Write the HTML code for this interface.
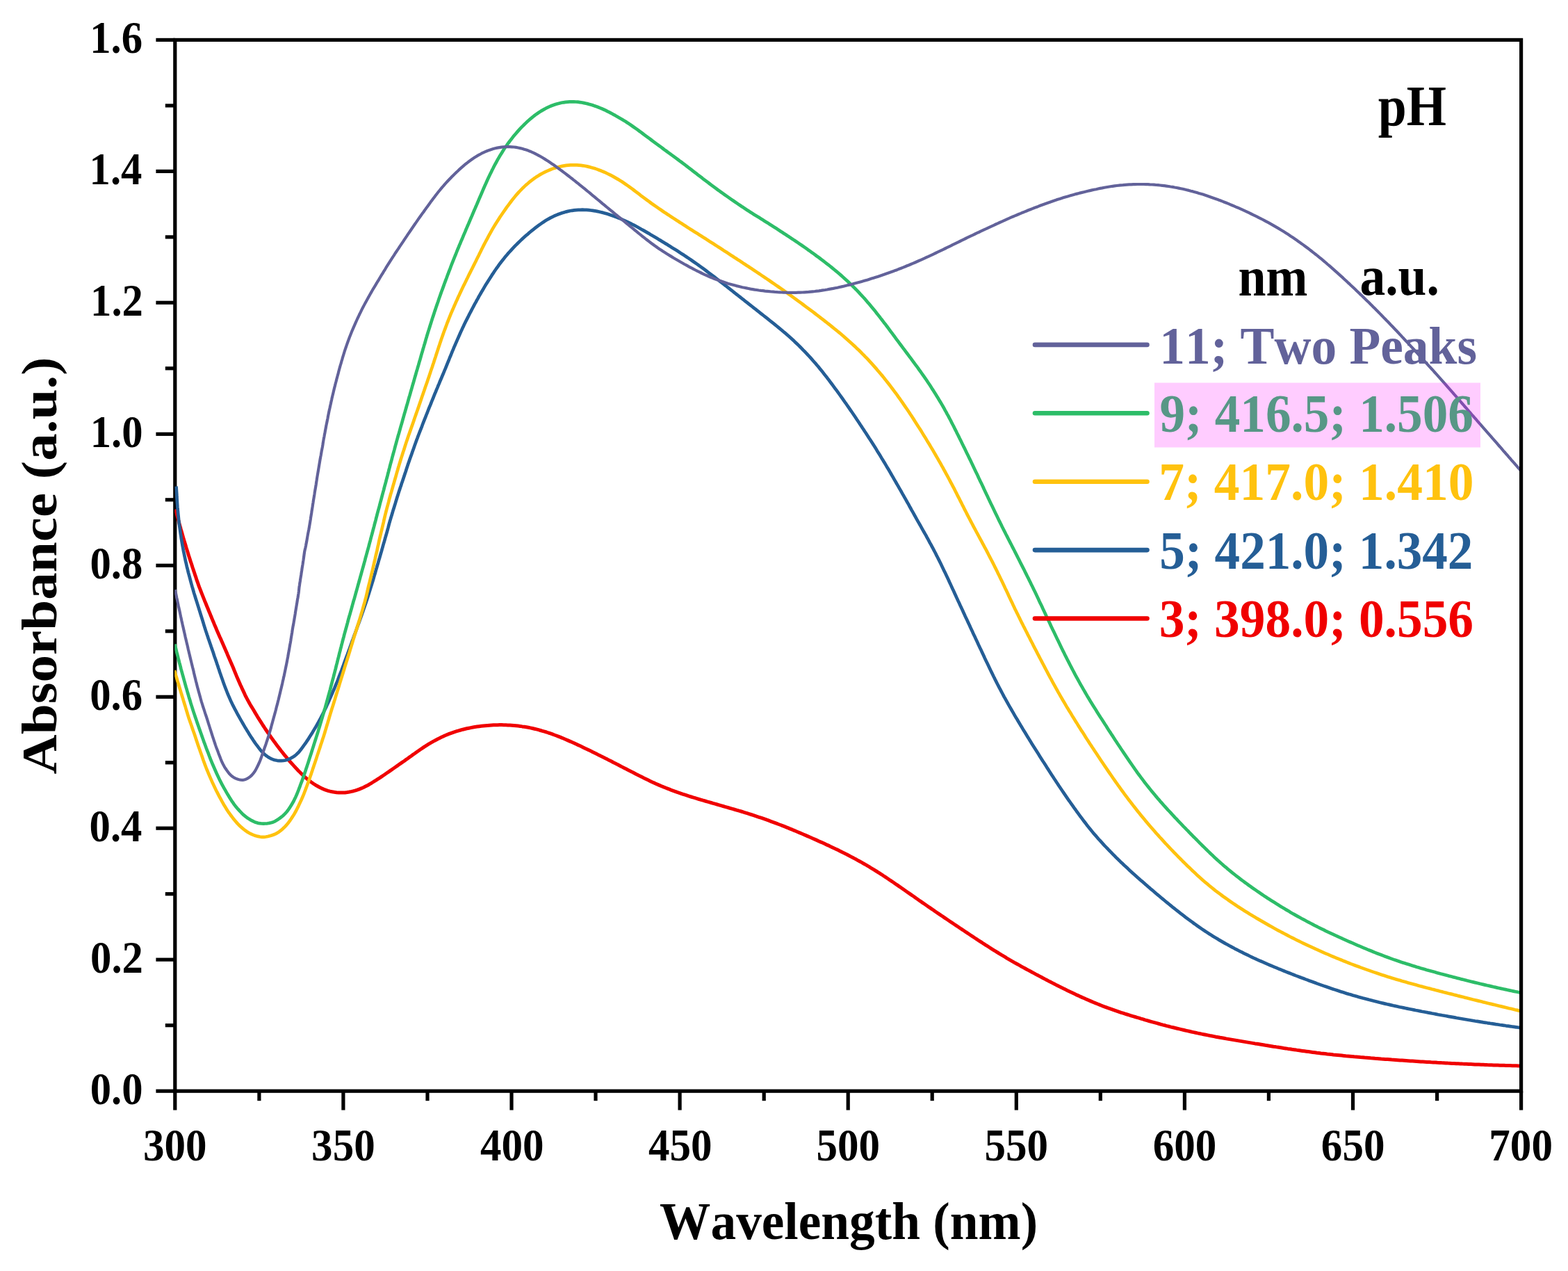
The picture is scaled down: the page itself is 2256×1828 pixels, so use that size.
<!DOCTYPE html>
<html lang="en"><head><meta charset="utf-8"><title>UV-Vis absorbance vs wavelength at different pH</title>
<style>html,body{margin:0;padding:0;background:#fff}body{width:2256px;height:1828px;overflow:hidden}svg{display:block;filter:blur(0.6px)}text{font-family:"Liberation Serif","DejaVu Serif",serif;font-weight:bold;font-size:100px;font-kerning:none}</style></head><body>
<svg width="2256" height="1828" viewBox="0 0 2256 1828">
<rect width="2256" height="1828" fill="#fff"/>
<g stroke="#000" stroke-width="5.2" fill="none" stroke-linecap="butt">
<rect x="251.8" y="57.4" width="1936.8" height="1511.8"/>
<line x1="224.4" y1="1569.2" x2="251.8" y2="1569.2"/>
<line x1="237.8" y1="1474.7" x2="251.8" y2="1474.7"/>
<line x1="224.4" y1="1380.2" x2="251.8" y2="1380.2"/>
<line x1="237.8" y1="1285.7" x2="251.8" y2="1285.7"/>
<line x1="224.4" y1="1191.2" x2="251.8" y2="1191.2"/>
<line x1="237.8" y1="1096.8" x2="251.8" y2="1096.8"/>
<line x1="224.4" y1="1002.3" x2="251.8" y2="1002.3"/>
<line x1="237.8" y1="907.8" x2="251.8" y2="907.8"/>
<line x1="224.4" y1="813.3" x2="251.8" y2="813.3"/>
<line x1="237.8" y1="718.8" x2="251.8" y2="718.8"/>
<line x1="224.4" y1="624.3" x2="251.8" y2="624.3"/>
<line x1="237.8" y1="529.8" x2="251.8" y2="529.8"/>
<line x1="224.4" y1="435.3" x2="251.8" y2="435.3"/>
<line x1="237.8" y1="340.9" x2="251.8" y2="340.9"/>
<line x1="224.4" y1="246.4" x2="251.8" y2="246.4"/>
<line x1="237.8" y1="151.9" x2="251.8" y2="151.9"/>
<line x1="224.4" y1="57.4" x2="251.8" y2="57.4"/>
<line x1="251.8" y1="1569.2" x2="251.8" y2="1596.6"/>
<line x1="372.9" y1="1569.2" x2="372.9" y2="1583.2"/>
<line x1="493.9" y1="1569.2" x2="493.9" y2="1596.6"/>
<line x1="615.0" y1="1569.2" x2="615.0" y2="1583.2"/>
<line x1="736.0" y1="1569.2" x2="736.0" y2="1596.6"/>
<line x1="857.0" y1="1569.2" x2="857.0" y2="1583.2"/>
<line x1="978.1" y1="1569.2" x2="978.1" y2="1596.6"/>
<line x1="1099.2" y1="1569.2" x2="1099.2" y2="1583.2"/>
<line x1="1220.2" y1="1569.2" x2="1220.2" y2="1596.6"/>
<line x1="1341.2" y1="1569.2" x2="1341.2" y2="1583.2"/>
<line x1="1462.3" y1="1569.2" x2="1462.3" y2="1596.6"/>
<line x1="1583.3" y1="1569.2" x2="1583.3" y2="1583.2"/>
<line x1="1704.4" y1="1569.2" x2="1704.4" y2="1596.6"/>
<line x1="1825.4" y1="1569.2" x2="1825.4" y2="1583.2"/>
<line x1="1946.5" y1="1569.2" x2="1946.5" y2="1596.6"/>
<line x1="2067.6" y1="1569.2" x2="2067.6" y2="1583.2"/>
<line x1="2188.6" y1="1569.2" x2="2188.6" y2="1596.6"/>
</g>
<g fill="#000">
<text transform="matrix(0.61038 0 0 0.65185 206.02 1669.15)">300</text>
<text transform="matrix(0.61038 0 0 0.65185 448.12 1669.15)">350</text>
<text transform="matrix(0.61038 0 0 0.65185 690.98 1669.15)">400</text>
<text transform="matrix(0.61038 0 0 0.65185 933.08 1669.15)">450</text>
<text transform="matrix(0.61038 0 0 0.65185 1174.42 1669.15)">500</text>
<text transform="matrix(0.61038 0 0 0.65185 1416.52 1669.15)">550</text>
<text transform="matrix(0.61038 0 0 0.65185 1658.77 1669.15)">600</text>
<text transform="matrix(0.61038 0 0 0.65185 1900.87 1669.15)">650</text>
<text transform="matrix(0.61038 0 0 0.65185 2142.36 1669.15)">700</text>
<text transform="matrix(0.60684 0 0 0.65294 129.77 1587.72)">0.0</text>
<text transform="matrix(0.60684 0 0 0.65294 130.08 1398.75)">0.2</text>
<text transform="matrix(0.60684 0 0 0.65294 128.56 1209.77)">0.4</text>
<text transform="matrix(0.60684 0 0 0.65294 129.17 1020.80)">0.6</text>
<text transform="matrix(0.60684 0 0 0.65294 129.47 831.82)">0.8</text>
<text transform="matrix(0.60684 0 0 0.65294 129.77 642.85)">1.0</text>
<text transform="matrix(0.60684 0 0 0.65294 130.08 453.87)">1.2</text>
<text transform="matrix(0.60684 0 0 0.65294 128.56 264.90)">1.4</text>
<text transform="matrix(0.60684 0 0 0.65294 129.17 75.92)">1.6</text>
</g>
<text transform="matrix(0.73365 0 0 0.76923 949.10 1782.48)" fill="#000">Wavelength (nm)</text>
<text transform="matrix(0 -0.79150 0.72889 0 81.19 1113.49)" fill="#000">Absorbance (a.u.)</text>
<clipPath id="plot"><rect x="251.3" y="57.4" width="1934.7" height="1511.8"/></clipPath>
<g fill="none" stroke-linejoin="round" stroke-linecap="butt" clip-path="url(#plot)">
<path stroke="#f00000" stroke-width="5.0" d="M252.4 732.4 L253.2 735.3 L254.0 738.2 L254.8 741.1 L255.6 744.0 L256.4 746.9 L257.2 749.9 L257.9 752.7 L258.7 755.6 L259.5 758.5 L260.3 761.4 L261.2 764.3 L262.0 767.2 L262.8 770.1 L263.6 773.0 L264.5 775.9 L265.3 778.8 L266.2 781.6 L267.1 784.5 L267.9 787.4 L268.8 790.3 L269.7 793.1 L270.6 796.0 L271.5 798.9 L272.4 801.7 L273.3 804.6 L274.2 807.4 L275.2 810.3 L276.1 813.1 L277.0 816.0 L278.0 818.8 L278.9 821.7 L279.9 824.5 L280.8 827.4 L281.8 830.2 L282.7 833.1 L283.7 835.9 L284.7 838.7 L285.7 841.6 L286.7 844.4 L287.8 847.2 L288.9 850.0 L290.0 852.8 L291.1 855.6 L292.2 858.4 L293.3 861.1 L294.4 863.9 L295.6 866.7 L296.7 869.5 L297.8 872.2 L299.0 875.0 L300.1 877.8 L301.2 880.6 L302.4 883.3 L303.5 886.1 L304.7 888.9 L305.8 891.6 L307.0 894.4 L308.1 897.2 L309.3 899.9 L310.5 902.7 L311.6 905.5 L312.8 908.2 L314.0 911.0 L315.2 913.7 L316.4 916.5 L317.7 919.2 L318.9 921.9 L320.1 924.7 L321.3 927.4 L322.5 930.2 L323.7 932.9 L324.9 935.7 L326.1 938.4 L327.2 941.2 L328.4 944.0 L329.6 946.7 L330.8 949.5 L332.0 952.2 L333.2 955.0 L334.4 957.7 L335.6 960.5 L336.7 963.3 L337.8 966.1 L339.0 968.9 L340.1 971.7 L341.3 974.4 L342.5 977.2 L343.7 980.0 L344.9 982.7 L346.1 985.5 L347.4 988.2 L348.6 990.9 L349.9 993.6 L351.2 996.4 L352.4 999.1 L353.7 1001.8 L355.1 1004.4 L356.5 1007.1 L358.0 1009.7 L359.4 1012.3 L360.9 1014.9 L362.5 1017.4 L364.1 1020.0 L365.6 1022.6 L367.1 1025.1 L368.7 1027.7 L370.2 1030.3 L371.8 1032.8 L373.4 1035.4 L375.0 1037.9 L376.6 1040.4 L378.2 1043.0 L379.9 1045.5 L381.5 1048.0 L383.2 1050.5 L384.9 1053.0 L386.6 1055.4 L388.3 1057.9 L390.0 1060.4 L391.7 1062.8 L393.5 1065.2 L395.2 1067.6 L397.0 1070.0 L398.8 1072.4 L400.6 1074.8 L402.4 1077.1 L404.2 1079.5 L406.1 1081.8 L407.9 1084.1 L409.8 1086.5 L411.7 1088.7 L413.6 1091.0 L415.5 1093.3 L417.4 1095.5 L419.4 1097.7 L421.4 1099.9 L423.4 1102.1 L425.4 1104.3 L427.5 1106.5 L429.5 1108.7 L431.7 1110.8 L433.8 1112.9 L436.0 1115.0 L438.2 1117.1 L440.5 1119.1 L442.8 1121.0 L445.2 1122.9 L447.6 1124.8 L450.1 1126.5 L452.6 1128.2 L455.2 1129.8 L457.9 1131.3 L460.6 1132.8 L463.4 1134.1 L466.2 1135.3 L469.1 1136.4 L472.0 1137.3 L475.0 1138.1 L478.0 1138.8 L481.1 1139.3 L484.1 1139.7 L487.2 1139.9 L490.3 1140.1 L493.4 1140.0 L496.5 1139.9 L499.6 1139.5 L502.6 1139.0 L505.7 1138.4 L508.7 1137.7 L511.6 1136.9 L514.6 1135.9 L517.4 1134.8 L520.2 1133.7 L523.0 1132.5 L525.8 1131.1 L528.5 1129.7 L531.2 1128.2 L533.9 1126.6 L536.4 1125.0 L539.0 1123.4 L541.5 1121.8 L544.1 1120.2 L546.6 1118.6 L549.1 1116.9 L551.6 1115.2 L554.1 1113.5 L556.6 1111.8 L559.0 1110.2 L561.5 1108.4 L563.9 1106.7 L566.4 1105.0 L568.9 1103.3 L571.3 1101.6 L573.8 1099.8 L576.2 1098.1 L578.7 1096.4 L581.2 1094.7 L583.6 1092.9 L586.1 1091.2 L588.5 1089.4 L591.0 1087.7 L593.4 1085.9 L595.9 1084.2 L598.3 1082.5 L600.8 1080.7 L603.3 1079.0 L605.8 1077.3 L608.3 1075.6 L610.8 1073.9 L613.3 1072.3 L615.9 1070.7 L618.5 1069.1 L621.1 1067.6 L623.7 1066.1 L626.4 1064.7 L629.1 1063.3 L631.8 1061.9 L634.5 1060.6 L637.3 1059.3 L640.0 1058.0 L642.8 1056.8 L645.6 1055.7 L648.5 1054.6 L651.3 1053.6 L654.2 1052.6 L657.1 1051.7 L660.0 1050.8 L662.9 1050.0 L665.8 1049.2 L668.7 1048.5 L671.6 1047.8 L674.6 1047.2 L677.5 1046.6 L680.5 1046.0 L683.4 1045.5 L686.4 1045.1 L689.3 1044.7 L692.3 1044.3 L695.2 1044.0 L698.2 1043.7 L701.2 1043.4 L704.1 1043.2 L707.1 1043.0 L710.0 1042.8 L713.0 1042.7 L716.0 1042.7 L718.9 1042.6 L721.9 1042.6 L724.8 1042.7 L727.8 1042.8 L730.7 1042.9 L733.7 1043.0 L736.6 1043.2 L739.6 1043.5 L742.5 1043.8 L745.5 1044.1 L748.4 1044.4 L751.4 1044.9 L754.3 1045.3 L757.3 1045.8 L760.2 1046.3 L763.1 1046.9 L766.0 1047.5 L769.0 1048.2 L771.9 1048.9 L774.8 1049.7 L777.6 1050.5 L780.5 1051.3 L783.4 1052.1 L786.3 1053.0 L789.1 1054.0 L792.0 1054.9 L794.8 1055.9 L797.6 1057.0 L800.4 1058.0 L803.2 1059.1 L806.0 1060.2 L808.8 1061.3 L811.6 1062.5 L814.4 1063.7 L817.1 1064.9 L819.9 1066.1 L822.6 1067.3 L825.4 1068.5 L828.1 1069.8 L830.8 1071.1 L833.5 1072.3 L836.3 1073.6 L839.0 1074.9 L841.7 1076.2 L844.4 1077.5 L847.1 1078.8 L849.8 1080.1 L852.5 1081.4 L855.2 1082.7 L857.8 1084.0 L860.5 1085.4 L863.2 1086.7 L865.9 1088.1 L868.6 1089.4 L871.2 1090.8 L873.9 1092.1 L876.6 1093.5 L879.3 1094.8 L881.9 1096.2 L884.6 1097.6 L887.3 1098.9 L889.9 1100.3 L892.6 1101.7 L895.3 1103.1 L897.9 1104.4 L900.6 1105.8 L903.3 1107.2 L905.9 1108.6 L908.6 1109.9 L911.3 1111.3 L914.0 1112.7 L916.6 1114.1 L919.3 1115.4 L922.0 1116.8 L924.7 1118.1 L927.4 1119.5 L930.1 1120.8 L932.8 1122.1 L935.5 1123.4 L938.2 1124.7 L940.9 1125.9 L943.7 1127.2 L946.4 1128.4 L949.2 1129.6 L951.9 1130.7 L954.7 1131.9 L957.5 1133.0 L960.3 1134.1 L963.1 1135.2 L965.9 1136.3 L968.7 1137.3 L971.5 1138.3 L974.3 1139.4 L977.2 1140.3 L980.0 1141.3 L982.9 1142.3 L985.7 1143.2 L988.6 1144.2 L991.4 1145.1 L994.3 1146.0 L997.2 1146.9 L1000.0 1147.7 L1002.9 1148.6 L1005.8 1149.5 L1008.7 1150.3 L1011.6 1151.2 L1014.4 1152.0 L1017.3 1152.9 L1020.2 1153.7 L1023.1 1154.5 L1026.0 1155.4 L1028.9 1156.2 L1031.8 1157.0 L1034.7 1157.8 L1037.5 1158.7 L1040.4 1159.5 L1043.3 1160.3 L1046.2 1161.1 L1049.1 1162.0 L1052.0 1162.8 L1054.9 1163.6 L1057.7 1164.5 L1060.6 1165.3 L1063.5 1166.2 L1066.4 1167.0 L1069.2 1167.9 L1072.1 1168.8 L1075.0 1169.7 L1077.8 1170.6 L1080.7 1171.5 L1083.5 1172.4 L1086.4 1173.4 L1089.2 1174.3 L1092.1 1175.3 L1094.9 1176.2 L1097.8 1177.2 L1100.6 1178.2 L1103.4 1179.2 L1106.2 1180.2 L1109.1 1181.3 L1111.9 1182.3 L1114.7 1183.3 L1117.5 1184.4 L1120.3 1185.5 L1123.1 1186.5 L1125.9 1187.6 L1128.7 1188.7 L1131.5 1189.8 L1134.2 1190.9 L1137.0 1192.1 L1139.8 1193.2 L1142.6 1194.4 L1145.3 1195.5 L1148.1 1196.7 L1150.9 1197.9 L1153.6 1199.0 L1156.4 1200.2 L1159.1 1201.4 L1161.9 1202.6 L1164.6 1203.8 L1167.4 1205.0 L1170.1 1206.2 L1172.9 1207.4 L1175.6 1208.6 L1178.4 1209.9 L1181.1 1211.1 L1183.9 1212.3 L1186.6 1213.6 L1189.3 1214.9 L1192.1 1216.1 L1194.8 1217.4 L1197.5 1218.7 L1200.2 1220.0 L1202.9 1221.2 L1205.7 1222.6 L1208.4 1223.9 L1211.0 1225.2 L1213.7 1226.6 L1216.4 1227.9 L1219.1 1229.3 L1221.8 1230.7 L1224.4 1232.1 L1227.1 1233.5 L1229.7 1234.9 L1232.4 1236.3 L1235.0 1237.8 L1237.6 1239.2 L1240.2 1240.7 L1242.9 1242.2 L1245.5 1243.7 L1248.0 1245.2 L1250.6 1246.7 L1253.2 1248.3 L1255.8 1249.8 L1258.3 1251.4 L1260.9 1253.0 L1263.4 1254.6 L1265.9 1256.2 L1268.5 1257.8 L1271.0 1259.5 L1273.5 1261.1 L1276.0 1262.8 L1278.5 1264.5 L1281.0 1266.2 L1283.5 1267.8 L1286.0 1269.5 L1288.4 1271.2 L1290.9 1272.9 L1293.4 1274.6 L1295.8 1276.3 L1298.3 1278.0 L1300.8 1279.8 L1303.3 1281.5 L1305.7 1283.2 L1308.2 1284.9 L1310.6 1286.6 L1313.1 1288.3 L1315.6 1290.0 L1318.0 1291.8 L1320.5 1293.5 L1322.9 1295.2 L1325.4 1296.9 L1327.8 1298.6 L1330.3 1300.3 L1332.8 1302.0 L1335.2 1303.7 L1337.7 1305.4 L1340.2 1307.1 L1342.7 1308.8 L1345.1 1310.5 L1347.6 1312.2 L1350.1 1313.9 L1352.6 1315.6 L1355.1 1317.3 L1357.5 1318.9 L1360.0 1320.6 L1362.5 1322.3 L1365.0 1324.0 L1367.5 1325.7 L1370.0 1327.3 L1372.5 1329.0 L1375.0 1330.7 L1377.5 1332.3 L1380.0 1334.0 L1382.5 1335.7 L1385.0 1337.3 L1387.5 1339.0 L1390.0 1340.7 L1392.5 1342.3 L1395.0 1344.0 L1397.5 1345.7 L1400.0 1347.3 L1402.5 1349.0 L1405.0 1350.6 L1407.5 1352.3 L1410.0 1353.9 L1412.6 1355.5 L1415.1 1357.2 L1417.6 1358.8 L1420.2 1360.4 L1422.7 1362.0 L1425.2 1363.7 L1427.8 1365.3 L1430.3 1366.9 L1432.8 1368.4 L1435.4 1370.0 L1438.0 1371.6 L1440.5 1373.2 L1443.1 1374.7 L1445.7 1376.2 L1448.2 1377.8 L1450.8 1379.3 L1453.4 1380.8 L1456.0 1382.3 L1458.6 1383.8 L1461.2 1385.3 L1463.8 1386.7 L1466.4 1388.2 L1469.0 1389.7 L1471.7 1391.1 L1474.3 1392.5 L1476.9 1394.0 L1479.5 1395.4 L1482.2 1396.8 L1484.8 1398.2 L1487.5 1399.6 L1490.1 1401.1 L1492.8 1402.5 L1495.4 1403.9 L1498.1 1405.3 L1500.7 1406.7 L1503.4 1408.1 L1506.0 1409.5 L1508.7 1410.9 L1511.4 1412.2 L1514.0 1413.6 L1516.7 1415.0 L1519.4 1416.4 L1522.1 1417.7 L1524.7 1419.1 L1527.4 1420.4 L1530.1 1421.8 L1532.8 1423.1 L1535.5 1424.4 L1538.2 1425.7 L1540.9 1427.0 L1543.6 1428.3 L1546.3 1429.6 L1549.0 1430.9 L1551.8 1432.1 L1554.5 1433.4 L1557.2 1434.6 L1560.0 1435.8 L1562.7 1437.1 L1565.5 1438.2 L1568.2 1439.4 L1571.0 1440.6 L1573.7 1441.7 L1576.5 1442.9 L1579.3 1444.0 L1582.1 1445.1 L1584.8 1446.2 L1587.6 1447.3 L1590.4 1448.3 L1593.2 1449.4 L1596.1 1450.4 L1598.9 1451.4 L1601.7 1452.4 L1604.5 1453.4 L1607.4 1454.4 L1610.2 1455.3 L1613.0 1456.3 L1615.9 1457.2 L1618.7 1458.1 L1621.6 1459.0 L1624.5 1459.9 L1627.3 1460.8 L1630.2 1461.7 L1633.1 1462.5 L1635.9 1463.4 L1638.8 1464.2 L1641.7 1465.1 L1644.6 1465.9 L1647.4 1466.8 L1650.3 1467.6 L1653.2 1468.5 L1656.1 1469.3 L1659.0 1470.1 L1661.8 1470.9 L1664.7 1471.7 L1667.6 1472.5 L1670.5 1473.3 L1673.4 1474.1 L1676.3 1474.8 L1679.2 1475.6 L1682.1 1476.3 L1685.0 1477.1 L1687.9 1477.8 L1690.9 1478.5 L1693.8 1479.2 L1696.7 1479.9 L1699.6 1480.6 L1702.5 1481.3 L1705.5 1482.0 L1708.4 1482.6 L1711.3 1483.3 L1714.2 1484.0 L1717.2 1484.6 L1720.1 1485.2 L1723.0 1485.9 L1726.0 1486.5 L1728.9 1487.1 L1731.9 1487.7 L1734.8 1488.3 L1737.7 1488.9 L1740.7 1489.5 L1743.6 1490.0 L1746.6 1490.6 L1749.5 1491.2 L1752.5 1491.7 L1755.4 1492.3 L1758.4 1492.8 L1761.3 1493.3 L1764.3 1493.9 L1767.2 1494.4 L1770.2 1494.9 L1773.1 1495.4 L1776.1 1495.9 L1779.1 1496.4 L1782.0 1496.9 L1785.0 1497.4 L1787.9 1497.9 L1790.9 1498.4 L1793.8 1498.9 L1796.8 1499.4 L1799.7 1499.9 L1802.7 1500.4 L1805.7 1500.9 L1808.6 1501.3 L1811.6 1501.8 L1814.5 1502.3 L1817.5 1502.8 L1820.5 1503.3 L1823.4 1503.7 L1826.4 1504.2 L1829.3 1504.7 L1832.3 1505.2 L1835.3 1505.6 L1838.2 1506.1 L1841.2 1506.5 L1844.2 1507.0 L1847.1 1507.5 L1850.1 1507.9 L1853.1 1508.4 L1856.0 1508.8 L1859.0 1509.3 L1862.0 1509.7 L1864.9 1510.1 L1867.9 1510.6 L1870.9 1511.0 L1873.8 1511.4 L1876.8 1511.8 L1879.8 1512.2 L1882.7 1512.6 L1885.7 1513.0 L1888.7 1513.4 L1891.7 1513.8 L1894.7 1514.2 L1897.6 1514.5 L1900.6 1514.9 L1903.6 1515.2 L1906.6 1515.5 L1909.6 1515.9 L1912.6 1516.2 L1915.5 1516.5 L1918.5 1516.9 L1921.5 1517.2 L1924.5 1517.5 L1927.5 1517.8 L1930.5 1518.1 L1933.5 1518.4 L1936.5 1518.7 L1939.5 1518.9 L1942.4 1519.2 L1945.4 1519.5 L1948.4 1519.8 L1951.4 1520.0 L1954.4 1520.3 L1957.4 1520.6 L1960.4 1520.8 L1963.4 1521.1 L1966.4 1521.3 L1969.4 1521.5 L1972.4 1521.8 L1975.4 1522.0 L1978.3 1522.3 L1981.3 1522.5 L1984.3 1522.7 L1987.3 1523.0 L1990.3 1523.2 L1993.3 1523.4 L1996.3 1523.6 L1999.3 1523.8 L2002.3 1524.1 L2005.3 1524.3 L2008.3 1524.5 L2011.3 1524.7 L2014.3 1524.9 L2017.3 1525.1 L2020.3 1525.3 L2023.3 1525.5 L2026.2 1525.7 L2029.2 1525.9 L2032.2 1526.1 L2035.2 1526.3 L2038.2 1526.5 L2041.2 1526.7 L2044.2 1526.9 L2047.2 1527.0 L2050.2 1527.2 L2053.2 1527.4 L2056.2 1527.6 L2059.2 1527.8 L2062.1 1527.9 L2065.1 1528.1 L2068.1 1528.3 L2071.1 1528.4 L2074.1 1528.6 L2077.1 1528.7 L2080.1 1528.9 L2083.1 1529.1 L2086.1 1529.2 L2089.1 1529.4 L2092.1 1529.5 L2095.1 1529.7 L2098.1 1529.8 L2101.1 1529.9 L2104.1 1530.1 L2107.1 1530.2 L2110.0 1530.3 L2113.0 1530.5 L2116.0 1530.6 L2119.0 1530.7 L2122.0 1530.9 L2125.0 1531.0 L2128.0 1531.1 L2131.0 1531.2 L2134.0 1531.3 L2137.0 1531.4 L2140.0 1531.6 L2143.0 1531.7 L2146.0 1531.8 L2149.0 1531.9 L2152.0 1532.0 L2155.0 1532.1 L2158.0 1532.2 L2160.9 1532.3 L2163.9 1532.3 L2166.9 1532.4 L2169.8 1532.5 L2172.8 1532.6 L2175.7 1532.7 L2178.6 1532.8 L2181.6 1532.8 L2184.9 1532.9 L2187.9 1533.0 L2190.9 1533.1"/>
<path stroke="#255e96" stroke-width="4.7" d="M253.5 699.5 L253.7 702.5 L253.9 705.5 L254.1 708.5 L254.3 711.5 L254.4 714.5 L254.6 717.5 L254.8 720.5 L255.0 723.5 L255.2 726.4 L255.4 729.4 L255.7 732.4 L255.9 735.3 L256.2 738.3 L256.5 741.3 L256.8 744.2 L257.1 747.2 L257.5 750.2 L257.8 753.1 L258.2 756.1 L258.6 759.0 L259.0 762.0 L259.4 764.9 L259.8 767.9 L260.3 770.8 L260.7 773.8 L261.2 776.7 L261.7 779.7 L262.2 782.6 L262.7 785.5 L263.3 788.5 L263.8 791.4 L264.4 794.3 L265.0 797.3 L265.6 800.2 L266.2 803.1 L266.8 806.1 L267.5 809.0 L268.2 811.9 L268.8 814.8 L269.6 817.8 L270.3 820.7 L271.0 823.6 L271.8 826.5 L272.6 829.4 L273.4 832.3 L274.1 835.2 L274.9 838.1 L275.7 841.0 L276.5 843.9 L277.4 846.8 L278.2 849.7 L279.0 852.6 L279.9 855.4 L280.8 858.3 L281.7 861.2 L282.6 864.0 L283.5 866.9 L284.4 869.8 L285.3 872.6 L286.2 875.5 L287.1 878.4 L288.0 881.3 L288.9 884.2 L289.8 887.0 L290.7 889.9 L291.6 892.8 L292.5 895.7 L293.3 898.5 L294.2 901.4 L295.1 904.3 L296.0 907.1 L297.0 910.0 L297.9 912.8 L298.9 915.6 L299.8 918.5 L300.8 921.3 L301.8 924.2 L302.8 927.0 L303.7 929.8 L304.7 932.6 L305.7 935.5 L306.7 938.3 L307.6 941.2 L308.5 944.0 L309.5 946.8 L310.5 949.6 L311.5 952.5 L312.4 955.3 L313.4 958.1 L314.3 961.0 L315.3 963.8 L316.2 966.7 L317.2 969.5 L318.2 972.4 L319.2 975.2 L320.2 978.0 L321.2 980.9 L322.2 983.7 L323.2 986.5 L324.3 989.4 L325.4 992.2 L326.5 995.0 L327.6 997.8 L328.8 1000.6 L330.0 1003.3 L331.2 1006.1 L332.4 1008.8 L333.7 1011.5 L335.0 1014.2 L336.4 1016.9 L337.8 1019.6 L339.2 1022.2 L340.6 1024.9 L342.0 1027.5 L343.5 1030.1 L344.9 1032.7 L346.4 1035.3 L347.9 1037.9 L349.4 1040.5 L350.9 1043.1 L352.4 1045.7 L354.0 1048.2 L355.5 1050.8 L357.1 1053.3 L358.7 1055.9 L360.3 1058.4 L361.9 1060.9 L363.6 1063.4 L365.2 1065.9 L366.9 1068.4 L368.7 1070.8 L370.5 1073.2 L372.3 1075.6 L374.2 1078.0 L376.2 1080.4 L378.3 1082.6 L380.5 1084.7 L382.8 1086.7 L385.3 1088.4 L387.8 1090.0 L390.4 1091.4 L393.1 1092.4 L395.9 1093.3 L398.8 1093.8 L401.7 1094.2 L404.6 1094.2 L407.6 1094.0 L410.6 1093.5 L413.4 1092.7 L416.2 1091.6 L418.8 1090.3 L421.4 1088.9 L423.9 1087.2 L426.3 1085.2 L428.6 1083.1 L430.7 1080.8 L432.7 1078.3 L434.5 1075.8 L436.3 1073.3 L438.1 1070.9 L439.9 1068.5 L441.6 1065.9 L443.3 1063.4 L444.9 1060.8 L446.5 1058.3 L448.1 1055.7 L449.7 1053.2 L451.2 1050.6 L452.7 1048.1 L454.3 1045.5 L455.8 1042.9 L457.2 1040.3 L458.7 1037.7 L460.1 1035.1 L461.5 1032.5 L462.9 1029.8 L464.3 1027.1 L465.6 1024.5 L466.9 1021.8 L468.2 1019.1 L469.5 1016.4 L470.7 1013.6 L472.0 1010.9 L473.2 1008.2 L474.4 1005.4 L475.6 1002.7 L476.8 999.9 L478.0 997.2 L479.2 994.4 L480.4 991.7 L481.6 988.9 L482.7 986.1 L483.8 983.4 L485.0 980.6 L486.1 977.8 L487.1 975.0 L488.2 972.2 L489.3 969.4 L490.4 966.6 L491.5 963.8 L492.5 961.0 L493.6 958.2 L494.6 955.4 L495.6 952.6 L496.6 949.8 L497.7 946.9 L498.7 944.1 L499.8 941.3 L500.8 938.5 L501.8 935.7 L502.9 932.9 L503.9 930.1 L504.9 927.3 L505.9 924.4 L506.9 921.6 L508.0 918.8 L509.0 916.0 L510.0 913.1 L511.1 910.3 L512.1 907.5 L513.1 904.7 L514.1 901.8 L515.1 899.0 L516.2 896.2 L517.2 893.4 L518.2 890.5 L519.2 887.7 L520.2 884.9 L521.2 882.0 L522.2 879.2 L523.2 876.3 L524.2 873.5 L525.2 870.6 L526.2 867.8 L527.1 864.9 L528.1 862.1 L529.0 859.2 L529.9 856.3 L530.8 853.5 L531.7 850.6 L532.6 847.7 L533.5 844.9 L534.4 842.0 L535.3 839.1 L536.2 836.3 L537.1 833.4 L537.9 830.5 L538.7 827.6 L539.6 824.8 L540.4 821.9 L541.2 819.0 L542.1 816.1 L542.9 813.2 L543.8 810.4 L544.6 807.5 L545.4 804.6 L546.3 801.7 L547.1 798.8 L547.9 796.0 L548.8 793.1 L549.6 790.2 L550.4 787.3 L551.2 784.4 L552.0 781.6 L552.9 778.7 L553.7 775.8 L554.5 772.9 L555.4 770.0 L556.2 767.1 L557.0 764.3 L557.8 761.4 L558.6 758.5 L559.3 755.6 L560.1 752.7 L560.9 749.8 L561.8 746.9 L562.6 744.1 L563.5 741.2 L564.4 738.3 L565.2 735.4 L566.1 732.5 L567.0 729.7 L567.9 726.8 L568.8 723.9 L569.6 721.1 L570.5 718.2 L571.4 715.3 L572.3 712.5 L573.2 709.6 L574.1 706.7 L575.1 703.9 L576.0 701.0 L577.0 698.2 L577.9 695.3 L578.9 692.5 L579.9 689.6 L580.8 686.7 L581.8 683.9 L582.7 681.0 L583.7 678.2 L584.6 675.3 L585.5 672.5 L586.5 669.6 L587.4 666.8 L588.4 664.0 L589.4 661.1 L590.4 658.3 L591.4 655.5 L592.4 652.7 L593.4 649.8 L594.4 647.0 L595.4 644.2 L596.4 641.3 L597.4 638.5 L598.4 635.7 L599.4 632.9 L600.5 630.1 L601.5 627.3 L602.6 624.5 L603.7 621.7 L604.8 618.9 L605.9 616.1 L607.0 613.3 L608.0 610.5 L609.1 607.7 L610.2 604.9 L611.3 602.1 L612.4 599.3 L613.5 596.5 L614.6 593.8 L615.7 591.0 L616.8 588.2 L617.9 585.4 L619.1 582.6 L620.2 579.8 L621.3 577.0 L622.4 574.3 L623.6 571.5 L624.7 568.7 L625.8 565.9 L627.0 563.2 L628.1 560.4 L629.3 557.6 L630.4 554.8 L631.6 552.1 L632.7 549.3 L633.9 546.5 L635.1 543.7 L636.2 541.0 L637.4 538.2 L638.6 535.4 L639.7 532.7 L640.9 529.9 L642.0 527.1 L643.1 524.3 L644.2 521.6 L645.4 518.8 L646.5 516.0 L647.6 513.2 L648.8 510.5 L649.9 507.7 L651.0 504.9 L652.2 502.2 L653.3 499.4 L654.5 496.7 L655.7 493.9 L656.9 491.2 L658.1 488.4 L659.3 485.7 L660.5 483.0 L661.7 480.2 L662.9 477.5 L664.2 474.8 L665.4 472.1 L666.7 469.4 L668.0 466.6 L669.3 463.9 L670.7 461.2 L672.0 458.6 L673.4 455.9 L674.7 453.2 L676.1 450.5 L677.5 447.8 L678.9 445.2 L680.3 442.5 L681.7 439.8 L683.1 437.2 L684.6 434.6 L686.0 431.9 L687.5 429.3 L688.9 426.7 L690.4 424.1 L691.9 421.5 L693.4 418.9 L695.0 416.3 L696.5 413.7 L698.0 411.1 L699.6 408.6 L701.2 406.0 L702.8 403.5 L704.4 401.0 L706.0 398.4 L707.6 395.9 L709.3 393.4 L710.9 390.9 L712.6 388.5 L714.3 386.0 L716.1 383.6 L717.8 381.1 L719.6 378.7 L721.5 376.3 L723.3 374.0 L725.2 371.6 L727.0 369.3 L729.0 367.0 L730.9 364.7 L732.9 362.5 L734.9 360.3 L736.9 358.1 L739.0 355.9 L741.1 353.7 L743.2 351.6 L745.3 349.5 L747.5 347.4 L749.6 345.4 L751.8 343.3 L754.0 341.3 L756.2 339.3 L758.5 337.4 L760.7 335.4 L763.0 333.5 L765.3 331.6 L767.6 329.8 L770.0 327.9 L772.3 326.1 L774.7 324.3 L777.2 322.6 L779.6 320.9 L782.1 319.2 L784.6 317.6 L787.1 316.1 L789.7 314.6 L792.3 313.1 L795.0 311.8 L797.6 310.5 L800.4 309.3 L803.1 308.2 L805.9 307.2 L808.7 306.2 L811.5 305.4 L814.4 304.6 L817.3 303.9 L820.2 303.3 L823.1 302.8 L826.1 302.4 L829.1 302.1 L832.0 301.9 L835.0 301.8 L838.0 301.7 L841.0 301.8 L844.0 301.9 L847.0 302.2 L850.0 302.5 L853.0 302.9 L855.9 303.3 L858.9 303.9 L861.8 304.5 L864.8 305.2 L867.7 305.9 L870.6 306.7 L873.5 307.6 L876.4 308.5 L879.2 309.5 L882.1 310.5 L884.9 311.5 L887.7 312.6 L890.5 313.7 L893.3 314.9 L896.0 316.1 L898.8 317.3 L901.5 318.6 L904.2 319.9 L906.9 321.2 L909.6 322.6 L912.3 323.9 L914.9 325.3 L917.6 326.8 L920.2 328.2 L922.8 329.7 L925.4 331.1 L928.0 332.6 L930.6 334.1 L933.2 335.6 L935.8 337.2 L938.4 338.7 L941.0 340.2 L943.6 341.8 L946.1 343.3 L948.7 344.9 L951.3 346.4 L953.8 348.0 L956.4 349.6 L959.0 351.1 L961.5 352.7 L964.1 354.3 L966.6 355.9 L969.1 357.4 L971.7 359.0 L974.2 360.6 L976.7 362.2 L979.2 363.9 L981.7 365.5 L984.2 367.1 L986.7 368.8 L989.2 370.4 L991.7 372.1 L994.2 373.8 L996.6 375.5 L999.1 377.2 L1001.5 378.9 L1004.0 380.6 L1006.4 382.4 L1008.8 384.1 L1011.3 385.9 L1013.7 387.7 L1016.1 389.5 L1018.5 391.3 L1020.8 393.1 L1023.2 394.9 L1025.6 396.7 L1028.0 398.5 L1030.4 400.3 L1032.7 402.1 L1035.1 404.0 L1037.5 405.8 L1039.8 407.6 L1042.2 409.5 L1044.6 411.3 L1046.9 413.2 L1049.3 415.0 L1051.6 416.9 L1054.0 418.7 L1056.3 420.6 L1058.7 422.5 L1061.1 424.3 L1063.4 426.2 L1065.8 428.0 L1068.1 429.9 L1070.5 431.7 L1072.8 433.6 L1075.2 435.4 L1077.6 437.3 L1079.9 439.1 L1082.3 441.0 L1084.6 442.9 L1087.0 444.7 L1089.4 446.6 L1091.7 448.4 L1094.1 450.3 L1096.4 452.1 L1098.8 454.0 L1101.2 455.9 L1103.5 457.7 L1105.9 459.6 L1108.2 461.5 L1110.6 463.4 L1112.9 465.2 L1115.3 467.1 L1117.6 469.0 L1119.9 470.9 L1122.3 472.8 L1124.6 474.7 L1126.9 476.7 L1129.2 478.6 L1131.4 480.6 L1133.7 482.6 L1136.0 484.6 L1138.2 486.6 L1140.4 488.6 L1142.6 490.6 L1144.8 492.7 L1147.0 494.8 L1149.2 496.9 L1151.3 499.0 L1153.4 501.1 L1155.5 503.3 L1157.6 505.4 L1159.7 507.6 L1161.8 509.8 L1163.8 512.0 L1165.8 514.2 L1167.8 516.4 L1169.8 518.7 L1171.8 521.0 L1173.8 523.2 L1175.7 525.5 L1177.7 527.8 L1179.6 530.2 L1181.5 532.5 L1183.4 534.8 L1185.2 537.2 L1187.1 539.6 L1189.0 541.9 L1190.8 544.3 L1192.6 546.7 L1194.4 549.1 L1196.2 551.5 L1198.0 553.9 L1199.8 556.3 L1201.6 558.8 L1203.4 561.2 L1205.2 563.6 L1206.9 566.0 L1208.7 568.5 L1210.4 570.9 L1212.2 573.4 L1213.9 575.8 L1215.6 578.3 L1217.4 580.7 L1219.1 583.2 L1220.8 585.6 L1222.5 588.1 L1224.2 590.6 L1225.9 593.0 L1227.6 595.5 L1229.3 598.0 L1231.0 600.5 L1232.6 603.0 L1234.3 605.5 L1236.0 608.0 L1237.6 610.5 L1239.3 613.0 L1240.9 615.5 L1242.6 618.0 L1244.2 620.5 L1245.9 623.0 L1247.5 625.5 L1249.1 628.0 L1250.7 630.5 L1252.4 633.0 L1254.0 635.5 L1255.6 638.1 L1257.2 640.6 L1258.8 643.1 L1260.4 645.6 L1261.9 648.2 L1263.5 650.7 L1265.1 653.3 L1266.7 655.8 L1268.2 658.4 L1269.8 660.9 L1271.3 663.5 L1272.9 666.1 L1274.4 668.6 L1275.9 671.2 L1277.5 673.8 L1279.0 676.3 L1280.5 678.9 L1282.0 681.5 L1283.5 684.1 L1285.0 686.7 L1286.5 689.3 L1288.0 691.9 L1289.5 694.5 L1291.0 697.1 L1292.5 699.7 L1294.0 702.3 L1295.5 704.9 L1297.0 707.5 L1298.4 710.1 L1299.9 712.7 L1301.4 715.3 L1302.9 717.9 L1304.3 720.5 L1305.8 723.1 L1307.3 725.7 L1308.7 728.3 L1310.2 731.0 L1311.6 733.6 L1313.1 736.2 L1314.6 738.8 L1316.0 741.4 L1317.5 744.1 L1318.9 746.7 L1320.4 749.3 L1321.9 751.9 L1323.4 754.5 L1324.9 757.1 L1326.4 759.8 L1327.8 762.4 L1329.3 765.0 L1330.8 767.6 L1332.3 770.2 L1333.7 772.9 L1335.2 775.5 L1336.6 778.1 L1338.0 780.8 L1339.5 783.4 L1340.9 786.1 L1342.3 788.7 L1343.7 791.4 L1345.1 794.0 L1346.5 796.7 L1347.8 799.4 L1349.2 802.0 L1350.5 804.7 L1351.9 807.4 L1353.2 810.1 L1354.5 812.8 L1355.8 815.5 L1357.1 818.2 L1358.4 820.9 L1359.7 823.6 L1361.0 826.3 L1362.3 829.0 L1363.6 831.8 L1364.9 834.5 L1366.1 837.2 L1367.4 839.9 L1368.6 842.6 L1369.9 845.4 L1371.1 848.1 L1372.4 850.8 L1373.6 853.5 L1374.9 856.3 L1376.1 859.0 L1377.4 861.7 L1378.6 864.4 L1379.9 867.1 L1381.2 869.9 L1382.4 872.6 L1383.7 875.3 L1385.0 878.0 L1386.2 880.7 L1387.5 883.5 L1388.7 886.2 L1390.0 888.9 L1391.3 891.6 L1392.5 894.3 L1393.8 897.1 L1395.1 899.8 L1396.3 902.5 L1397.6 905.2 L1398.9 907.9 L1400.1 910.7 L1401.4 913.4 L1402.7 916.1 L1403.9 918.8 L1405.2 921.5 L1406.5 924.3 L1407.7 927.0 L1409.0 929.7 L1410.3 932.4 L1411.6 935.1 L1412.8 937.8 L1414.1 940.6 L1415.4 943.3 L1416.6 946.0 L1417.9 948.7 L1419.2 951.4 L1420.5 954.1 L1421.8 956.8 L1423.1 959.6 L1424.4 962.3 L1425.7 965.0 L1427.0 967.6 L1428.3 970.3 L1429.6 973.0 L1431.0 975.7 L1432.3 978.4 L1433.7 981.1 L1435.0 983.7 L1436.4 986.4 L1437.8 989.1 L1439.2 991.7 L1440.6 994.4 L1442.0 997.0 L1443.4 999.6 L1444.8 1002.3 L1446.3 1004.9 L1447.7 1007.5 L1449.2 1010.1 L1450.6 1012.7 L1452.1 1015.3 L1453.6 1017.9 L1455.1 1020.5 L1456.6 1023.1 L1458.1 1025.7 L1459.6 1028.3 L1461.1 1030.9 L1462.7 1033.4 L1464.2 1036.0 L1465.7 1038.6 L1467.3 1041.2 L1468.8 1043.8 L1470.4 1046.3 L1471.9 1048.9 L1473.5 1051.5 L1475.1 1054.0 L1476.6 1056.6 L1478.2 1059.2 L1479.8 1061.7 L1481.3 1064.3 L1482.9 1066.8 L1484.5 1069.4 L1486.1 1071.9 L1487.7 1074.5 L1489.3 1077.0 L1490.9 1079.6 L1492.5 1082.1 L1494.1 1084.6 L1495.7 1087.2 L1497.3 1089.7 L1498.9 1092.2 L1500.5 1094.8 L1502.2 1097.3 L1503.8 1099.8 L1505.4 1102.3 L1507.0 1104.9 L1508.7 1107.4 L1510.3 1109.9 L1511.9 1112.4 L1513.5 1114.9 L1515.2 1117.5 L1516.8 1120.0 L1518.5 1122.5 L1520.1 1125.0 L1521.8 1127.5 L1523.4 1130.0 L1525.1 1132.5 L1526.8 1135.0 L1528.5 1137.5 L1530.1 1139.9 L1531.8 1142.4 L1533.5 1144.9 L1535.2 1147.4 L1536.9 1149.8 L1538.7 1152.3 L1540.4 1154.8 L1542.1 1157.2 L1543.9 1159.7 L1545.6 1162.1 L1547.4 1164.5 L1549.1 1167.0 L1550.9 1169.4 L1552.7 1171.8 L1554.5 1174.3 L1556.3 1176.7 L1558.1 1179.1 L1559.9 1181.5 L1561.7 1183.8 L1563.5 1186.2 L1565.4 1188.6 L1567.3 1190.9 L1569.2 1193.2 L1571.1 1195.6 L1573.0 1197.9 L1574.9 1200.2 L1576.9 1202.4 L1578.9 1204.7 L1580.8 1207.0 L1582.9 1209.2 L1584.9 1211.4 L1586.9 1213.6 L1588.9 1215.8 L1591.0 1218.0 L1593.1 1220.2 L1595.2 1222.4 L1597.3 1224.5 L1599.4 1226.7 L1601.5 1228.8 L1603.6 1230.9 L1605.7 1233.1 L1607.9 1235.2 L1610.0 1237.3 L1612.2 1239.4 L1614.4 1241.4 L1616.5 1243.5 L1618.7 1245.6 L1620.9 1247.6 L1623.1 1249.6 L1625.3 1251.7 L1627.5 1253.7 L1629.7 1255.7 L1632.0 1257.7 L1634.2 1259.7 L1636.4 1261.7 L1638.7 1263.7 L1640.9 1265.7 L1643.2 1267.6 L1645.4 1269.6 L1647.7 1271.6 L1650.0 1273.5 L1652.2 1275.5 L1654.5 1277.4 L1656.8 1279.4 L1659.1 1281.3 L1661.3 1283.2 L1663.6 1285.2 L1665.9 1287.1 L1668.2 1289.0 L1670.5 1291.0 L1672.8 1292.9 L1675.1 1294.8 L1677.4 1296.7 L1679.8 1298.6 L1682.1 1300.5 L1684.4 1302.4 L1686.7 1304.3 L1689.1 1306.1 L1691.4 1308.0 L1693.8 1309.9 L1696.1 1311.7 L1698.5 1313.6 L1700.9 1315.4 L1703.2 1317.2 L1705.6 1319.1 L1708.0 1320.9 L1710.4 1322.7 L1712.8 1324.4 L1715.3 1326.2 L1717.7 1328.0 L1720.1 1329.7 L1722.6 1331.5 L1725.1 1333.2 L1727.5 1334.9 L1730.0 1336.6 L1732.5 1338.3 L1735.0 1339.9 L1737.5 1341.6 L1740.0 1343.2 L1742.6 1344.8 L1745.1 1346.4 L1747.7 1348.0 L1750.3 1349.5 L1752.8 1351.1 L1755.4 1352.6 L1758.0 1354.1 L1760.6 1355.6 L1763.2 1357.1 L1765.9 1358.5 L1768.5 1360.0 L1771.1 1361.4 L1773.8 1362.8 L1776.4 1364.3 L1779.1 1365.6 L1781.7 1367.0 L1784.4 1368.4 L1787.1 1369.7 L1789.8 1371.1 L1792.5 1372.4 L1795.2 1373.7 L1797.9 1375.0 L1800.6 1376.3 L1803.3 1377.6 L1806.1 1378.8 L1808.8 1380.1 L1811.5 1381.3 L1814.3 1382.5 L1817.0 1383.7 L1819.7 1384.9 L1822.5 1386.1 L1825.3 1387.3 L1828.0 1388.5 L1830.8 1389.6 L1833.6 1390.8 L1836.3 1391.9 L1839.1 1393.1 L1841.9 1394.2 L1844.7 1395.4 L1847.4 1396.5 L1850.2 1397.6 L1853.0 1398.7 L1855.8 1399.8 L1858.6 1400.9 L1861.4 1402.0 L1864.2 1403.1 L1867.0 1404.1 L1869.8 1405.2 L1872.6 1406.3 L1875.4 1407.3 L1878.2 1408.4 L1881.0 1409.4 L1883.8 1410.5 L1886.7 1411.5 L1889.5 1412.5 L1892.3 1413.5 L1895.1 1414.6 L1897.9 1415.6 L1900.7 1416.6 L1903.6 1417.6 L1906.4 1418.6 L1909.2 1419.5 L1912.1 1420.5 L1914.9 1421.5 L1917.7 1422.4 L1920.6 1423.4 L1923.4 1424.3 L1926.3 1425.3 L1929.1 1426.2 L1932.0 1427.1 L1934.9 1428.0 L1937.7 1428.9 L1940.6 1429.8 L1943.5 1430.6 L1946.3 1431.5 L1949.2 1432.3 L1952.1 1433.1 L1955.0 1433.9 L1957.9 1434.7 L1960.8 1435.5 L1963.7 1436.2 L1966.6 1437.0 L1969.5 1437.8 L1972.4 1438.5 L1975.3 1439.3 L1978.2 1440.0 L1981.2 1440.7 L1984.1 1441.5 L1987.0 1442.2 L1989.9 1442.9 L1992.8 1443.6 L1995.7 1444.3 L1998.6 1444.9 L2001.6 1445.6 L2004.5 1446.3 L2007.4 1446.9 L2010.4 1447.5 L2013.3 1448.2 L2016.2 1448.8 L2019.2 1449.4 L2022.1 1450.0 L2025.0 1450.6 L2028.0 1451.2 L2030.9 1451.8 L2033.9 1452.4 L2036.8 1453.0 L2039.8 1453.5 L2042.7 1454.1 L2045.6 1454.7 L2048.6 1455.2 L2051.5 1455.8 L2054.5 1456.4 L2057.4 1456.9 L2060.4 1457.5 L2063.3 1458.0 L2066.3 1458.6 L2069.2 1459.2 L2072.2 1459.7 L2075.1 1460.3 L2078.1 1460.8 L2081.0 1461.3 L2084.0 1461.9 L2086.9 1462.4 L2089.9 1462.9 L2092.8 1463.4 L2095.8 1464.0 L2098.7 1464.5 L2101.7 1465.0 L2104.6 1465.5 L2107.6 1466.0 L2110.5 1466.5 L2113.5 1467.0 L2116.5 1467.5 L2119.4 1468.0 L2122.4 1468.5 L2125.3 1468.9 L2128.3 1469.4 L2131.3 1469.9 L2134.2 1470.4 L2137.2 1470.8 L2140.2 1471.3 L2143.1 1471.7 L2146.1 1472.2 L2149.1 1472.6 L2152.0 1473.1 L2155.0 1473.5 L2158.0 1474.0 L2160.9 1474.4 L2163.9 1474.8 L2166.8 1475.3 L2169.8 1475.7 L2172.7 1476.1 L2175.5 1476.5 L2178.5 1476.9 L2181.5 1477.3 L2184.7 1477.8 L2187.7 1478.2 L2190.7 1478.6"/>
<path stroke="#ffc20e" stroke-width="4.7" d="M250.9 964.3 L251.8 967.2 L252.6 970.1 L253.5 972.9 L254.4 975.8 L255.2 978.7 L256.1 981.6 L257.0 984.4 L257.8 987.3 L258.7 990.2 L259.6 993.1 L260.4 995.9 L261.3 998.8 L262.2 1001.7 L263.1 1004.6 L263.9 1007.4 L264.8 1010.3 L265.7 1013.2 L266.6 1016.0 L267.4 1018.9 L268.3 1021.8 L269.2 1024.7 L270.0 1027.5 L270.9 1030.4 L271.8 1033.2 L272.8 1036.1 L273.8 1038.9 L274.8 1041.7 L275.8 1044.5 L276.7 1047.4 L277.7 1050.2 L278.7 1053.0 L279.7 1055.8 L280.7 1058.7 L281.6 1061.5 L282.5 1064.4 L283.5 1067.2 L284.4 1070.0 L285.4 1072.9 L286.4 1075.7 L287.4 1078.5 L288.4 1081.4 L289.4 1084.2 L290.4 1087.0 L291.4 1089.9 L292.3 1092.7 L293.3 1095.5 L294.4 1098.4 L295.4 1101.2 L296.5 1104.0 L297.6 1106.8 L298.8 1109.5 L299.9 1112.3 L301.1 1115.1 L302.3 1117.9 L303.5 1120.6 L304.7 1123.4 L305.9 1126.1 L307.2 1128.8 L308.5 1131.6 L309.8 1134.3 L311.1 1137.0 L312.5 1139.7 L313.9 1142.4 L315.3 1145.1 L316.7 1147.7 L318.2 1150.4 L319.6 1153.0 L321.1 1155.7 L322.6 1158.3 L324.2 1160.8 L325.8 1163.4 L327.4 1166.0 L329.1 1168.5 L330.9 1170.9 L332.6 1173.3 L334.4 1175.6 L336.2 1178.0 L338.1 1180.3 L340.1 1182.6 L342.1 1184.9 L344.2 1187.0 L346.3 1189.0 L348.5 1190.9 L350.7 1192.7 L353.0 1194.5 L355.4 1196.2 L358.0 1197.8 L360.6 1199.2 L363.3 1200.4 L365.9 1201.4 L368.6 1202.2 L371.2 1202.9 L374.0 1203.5 L376.8 1203.8 L379.7 1203.8 L382.5 1203.5 L385.4 1203.0 L388.1 1202.3 L390.8 1201.5 L393.6 1200.5 L396.4 1199.3 L399.1 1197.9 L401.7 1196.2 L404.0 1194.4 L406.3 1192.4 L408.6 1190.3 L410.8 1188.1 L412.9 1185.7 L415.0 1183.2 L416.9 1180.6 L418.7 1178.0 L420.4 1175.4 L422.1 1172.8 L423.7 1170.2 L425.2 1167.5 L426.7 1164.7 L428.1 1161.9 L429.5 1159.1 L430.8 1156.3 L432.1 1153.6 L433.4 1150.8 L434.6 1148.0 L435.8 1145.2 L437.0 1142.4 L438.1 1139.5 L439.2 1136.7 L440.2 1133.9 L441.3 1131.0 L442.3 1128.2 L443.4 1125.4 L444.4 1122.5 L445.4 1119.7 L446.4 1116.8 L447.4 1114.0 L448.3 1111.1 L449.3 1108.3 L450.2 1105.4 L451.2 1102.6 L452.1 1099.8 L453.1 1096.9 L454.0 1094.1 L455.0 1091.3 L455.9 1088.4 L456.8 1085.6 L457.8 1082.7 L458.7 1079.9 L459.7 1077.0 L460.6 1074.2 L461.5 1071.3 L462.5 1068.5 L463.4 1065.7 L464.3 1062.8 L465.3 1060.0 L466.2 1057.1 L467.1 1054.3 L467.9 1051.4 L468.8 1048.5 L469.6 1045.7 L470.5 1042.8 L471.4 1039.9 L472.2 1037.1 L473.1 1034.2 L473.9 1031.3 L474.8 1028.4 L475.6 1025.6 L476.5 1022.7 L477.4 1019.8 L478.3 1017.0 L479.2 1014.2 L480.1 1011.3 L481.0 1008.4 L481.9 1005.6 L482.7 1002.7 L483.6 999.8 L484.5 997.0 L485.4 994.1 L486.3 991.3 L487.2 988.4 L488.1 985.5 L488.9 982.6 L489.8 979.7 L490.7 976.8 L491.6 974.0 L492.5 971.1 L493.4 968.2 L494.3 965.3 L495.2 962.5 L496.0 959.6 L496.9 956.8 L497.8 953.9 L498.7 951.1 L499.6 948.2 L500.5 945.3 L501.4 942.5 L502.3 939.6 L503.2 936.7 L504.0 933.8 L504.9 931.0 L505.8 928.1 L506.7 925.3 L507.6 922.4 L508.4 919.5 L509.3 916.7 L510.2 913.8 L511.1 910.9 L512.0 908.1 L512.9 905.2 L513.8 902.3 L514.7 899.5 L515.6 896.6 L516.5 893.7 L517.4 890.9 L518.3 888.0 L519.1 885.1 L520.0 882.3 L520.9 879.4 L521.7 876.5 L522.5 873.6 L523.3 870.7 L524.2 867.8 L525.0 864.9 L525.7 862.0 L526.5 859.1 L527.2 856.2 L527.9 853.3 L528.6 850.4 L529.2 847.5 L529.9 844.5 L530.6 841.6 L531.4 838.7 L532.1 835.8 L532.8 832.9 L533.5 830.0 L534.2 827.1 L534.9 824.1 L535.6 821.2 L536.3 818.3 L537.0 815.4 L537.6 812.5 L538.3 809.6 L539.0 806.6 L539.7 803.7 L540.3 800.8 L541.0 797.9 L541.7 795.0 L542.4 792.1 L543.0 789.2 L543.6 786.2 L544.3 783.3 L544.9 780.4 L545.5 777.5 L546.2 774.5 L546.9 771.6 L547.6 768.7 L548.3 765.8 L549.0 762.9 L549.7 760.0 L550.4 757.0 L551.1 754.1 L551.8 751.2 L552.4 748.3 L553.1 745.4 L553.8 742.4 L554.5 739.5 L555.2 736.6 L556.0 733.7 L556.7 730.8 L557.5 727.9 L558.3 725.0 L559.1 722.1 L559.8 719.2 L560.6 716.2 L561.4 713.3 L562.2 710.4 L563.1 707.6 L563.9 704.7 L564.7 701.8 L565.5 698.9 L566.4 696.0 L567.2 693.1 L568.0 690.2 L568.9 687.3 L569.7 684.4 L570.5 681.5 L571.3 678.6 L572.2 675.7 L573.0 672.8 L573.9 669.9 L574.7 667.1 L575.6 664.2 L576.5 661.3 L577.4 658.4 L578.3 655.6 L579.2 652.7 L580.1 649.9 L581.1 647.0 L582.0 644.1 L582.9 641.3 L583.8 638.4 L584.7 635.6 L585.7 632.7 L586.7 629.9 L587.6 627.0 L588.6 624.2 L589.6 621.4 L590.6 618.6 L591.6 615.7 L592.6 612.9 L593.6 610.1 L594.6 607.2 L595.6 604.4 L596.5 601.5 L597.5 598.7 L598.5 595.9 L599.5 593.0 L600.5 590.2 L601.5 587.4 L602.5 584.5 L603.4 581.7 L604.4 578.9 L605.4 576.0 L606.3 573.2 L607.3 570.3 L608.3 567.5 L609.3 564.6 L610.3 561.8 L611.2 559.0 L612.2 556.1 L613.2 553.3 L614.2 550.5 L615.2 547.6 L616.1 544.8 L617.1 541.9 L618.0 539.1 L619.0 536.2 L619.9 533.4 L620.9 530.5 L621.9 527.7 L622.8 524.8 L623.8 522.0 L624.7 519.1 L625.6 516.3 L626.6 513.4 L627.5 510.5 L628.4 507.7 L629.4 504.8 L630.3 502.0 L631.2 499.1 L632.2 496.3 L633.1 493.4 L634.1 490.6 L635.0 487.8 L636.0 484.9 L637.0 482.1 L638.0 479.3 L639.0 476.5 L640.1 473.7 L641.1 470.9 L642.2 468.0 L643.2 465.2 L644.3 462.5 L645.4 459.7 L646.5 456.9 L647.6 454.1 L648.7 451.3 L649.9 448.6 L651.1 445.8 L652.3 443.1 L653.5 440.3 L654.7 437.6 L655.9 434.8 L657.2 432.1 L658.4 429.3 L659.6 426.6 L660.9 423.9 L662.1 421.2 L663.4 418.4 L664.7 415.7 L666.0 413.0 L667.3 410.3 L668.7 407.6 L670.0 404.9 L671.3 402.2 L672.7 399.5 L674.0 396.8 L675.3 394.1 L676.7 391.4 L678.0 388.7 L679.4 386.1 L680.7 383.4 L682.1 380.7 L683.4 378.0 L684.8 375.3 L686.1 372.6 L687.4 369.9 L688.8 367.3 L690.1 364.6 L691.4 361.9 L692.7 359.2 L694.1 356.5 L695.4 353.9 L696.8 351.2 L698.2 348.5 L699.6 345.9 L701.0 343.3 L702.4 340.6 L703.8 338.0 L705.3 335.4 L706.7 332.8 L708.2 330.2 L709.7 327.6 L711.2 325.1 L712.8 322.5 L714.4 320.0 L716.0 317.5 L717.6 314.9 L719.2 312.4 L720.9 310.0 L722.6 307.5 L724.3 305.0 L726.0 302.6 L727.7 300.1 L729.4 297.7 L731.2 295.3 L733.0 292.9 L734.8 290.5 L736.6 288.1 L738.5 285.8 L740.4 283.4 L742.3 281.1 L744.2 278.9 L746.2 276.6 L748.2 274.5 L750.3 272.3 L752.4 270.2 L754.6 268.1 L756.7 266.1 L759.0 264.2 L761.3 262.2 L763.6 260.4 L765.9 258.6 L768.3 256.8 L770.8 255.1 L773.3 253.5 L775.8 251.9 L778.4 250.4 L781.0 249.0 L783.6 247.6 L786.3 246.3 L789.1 245.1 L791.8 244.0 L794.6 242.9 L797.4 241.9 L800.3 241.0 L803.2 240.2 L806.1 239.5 L809.0 238.9 L812.0 238.4 L814.9 237.9 L817.9 237.6 L820.9 237.4 L823.9 237.3 L826.9 237.3 L829.9 237.4 L833.0 237.6 L836.0 237.9 L839.0 238.3 L842.0 238.8 L844.9 239.4 L847.9 240.1 L850.8 240.9 L853.8 241.7 L856.7 242.6 L859.6 243.6 L862.4 244.7 L865.3 245.8 L868.1 247.0 L870.9 248.2 L873.6 249.5 L876.4 250.8 L879.1 252.2 L881.8 253.6 L884.4 255.1 L887.0 256.6 L889.6 258.1 L892.2 259.7 L894.8 261.3 L897.3 263.0 L899.8 264.7 L902.2 266.4 L904.7 268.1 L907.1 269.9 L909.6 271.7 L912.0 273.5 L914.4 275.3 L916.8 277.1 L919.2 278.9 L921.5 280.8 L923.9 282.6 L926.3 284.4 L928.7 286.2 L931.2 288.0 L933.6 289.7 L936.0 291.5 L938.4 293.3 L940.9 295.0 L943.3 296.7 L945.8 298.4 L948.3 300.1 L950.8 301.8 L953.2 303.5 L955.7 305.2 L958.2 306.8 L960.7 308.5 L963.2 310.1 L965.7 311.8 L968.3 313.4 L970.8 315.1 L973.3 316.7 L975.8 318.3 L978.3 320.0 L980.9 321.6 L983.4 323.2 L985.9 324.8 L988.4 326.4 L991.0 328.1 L993.5 329.7 L996.0 331.3 L998.6 332.9 L1001.1 334.5 L1003.7 336.1 L1006.2 337.7 L1008.7 339.3 L1011.3 340.9 L1013.8 342.5 L1016.3 344.1 L1018.8 345.8 L1021.4 347.4 L1023.9 349.0 L1026.4 350.6 L1028.9 352.2 L1031.5 353.9 L1034.0 355.5 L1036.5 357.1 L1039.0 358.7 L1041.5 360.4 L1044.1 362.0 L1046.6 363.6 L1049.1 365.3 L1051.6 366.9 L1054.1 368.5 L1056.6 370.2 L1059.1 371.8 L1061.6 373.5 L1064.2 375.1 L1066.7 376.7 L1069.2 378.4 L1071.7 380.0 L1074.2 381.7 L1076.7 383.3 L1079.2 385.0 L1081.7 386.6 L1084.2 388.3 L1086.7 389.9 L1089.2 391.6 L1091.7 393.3 L1094.1 394.9 L1096.6 396.6 L1099.1 398.3 L1101.6 399.9 L1104.1 401.6 L1106.6 403.3 L1109.0 405.0 L1111.5 406.7 L1114.0 408.4 L1116.4 410.1 L1118.9 411.8 L1121.4 413.5 L1123.8 415.2 L1126.3 416.9 L1128.7 418.7 L1131.2 420.4 L1133.6 422.1 L1136.0 423.9 L1138.5 425.6 L1140.9 427.4 L1143.3 429.1 L1145.7 430.9 L1148.1 432.7 L1150.5 434.4 L1153.0 436.2 L1155.4 438.0 L1157.8 439.8 L1160.2 441.6 L1162.6 443.3 L1165.0 445.1 L1167.4 446.9 L1169.8 448.7 L1172.2 450.5 L1174.5 452.3 L1176.9 454.1 L1179.3 456.0 L1181.7 457.8 L1184.1 459.6 L1186.4 461.5 L1188.8 463.3 L1191.1 465.2 L1193.5 467.0 L1195.8 468.9 L1198.2 470.8 L1200.5 472.7 L1202.9 474.6 L1205.2 476.5 L1207.5 478.4 L1209.8 480.3 L1212.1 482.3 L1214.4 484.2 L1216.6 486.2 L1218.9 488.2 L1221.1 490.2 L1223.4 492.2 L1225.6 494.2 L1227.8 496.2 L1230.0 498.3 L1232.2 500.4 L1234.4 502.4 L1236.6 504.5 L1238.7 506.6 L1240.8 508.8 L1242.9 510.9 L1245.0 513.1 L1247.1 515.2 L1249.2 517.4 L1251.2 519.6 L1253.3 521.9 L1255.3 524.1 L1257.3 526.3 L1259.3 528.6 L1261.3 530.9 L1263.2 533.2 L1265.2 535.5 L1267.1 537.8 L1269.1 540.1 L1271.0 542.4 L1272.8 544.7 L1274.7 547.1 L1276.6 549.5 L1278.4 551.8 L1280.3 554.2 L1282.1 556.6 L1283.9 559.0 L1285.7 561.4 L1287.5 563.8 L1289.3 566.2 L1291.1 568.6 L1292.8 571.1 L1294.6 573.5 L1296.3 576.0 L1298.0 578.4 L1299.7 580.9 L1301.4 583.4 L1303.1 585.8 L1304.8 588.3 L1306.5 590.8 L1308.2 593.3 L1309.8 595.8 L1311.5 598.3 L1313.1 600.8 L1314.8 603.4 L1316.4 605.9 L1318.0 608.4 L1319.6 610.9 L1321.2 613.5 L1322.9 616.0 L1324.5 618.6 L1326.1 621.1 L1327.6 623.6 L1329.2 626.2 L1330.8 628.7 L1332.4 631.3 L1333.9 633.9 L1335.5 636.4 L1337.1 639.0 L1338.6 641.6 L1340.1 644.1 L1341.7 646.7 L1343.2 649.3 L1344.7 651.9 L1346.2 654.5 L1347.7 657.1 L1349.2 659.7 L1350.7 662.3 L1352.2 664.9 L1353.7 667.5 L1355.1 670.1 L1356.6 672.7 L1358.0 675.3 L1359.5 678.0 L1360.9 680.6 L1362.3 683.2 L1363.8 685.9 L1365.2 688.5 L1366.6 691.1 L1368.0 693.8 L1369.4 696.4 L1370.8 699.1 L1372.2 701.7 L1373.6 704.4 L1374.9 707.1 L1376.3 709.7 L1377.6 712.4 L1379.0 715.1 L1380.4 717.7 L1381.7 720.4 L1383.1 723.1 L1384.4 725.8 L1385.8 728.4 L1387.1 731.1 L1388.5 733.8 L1389.9 736.5 L1391.2 739.1 L1392.6 741.8 L1394.0 744.5 L1395.4 747.1 L1396.8 749.8 L1398.2 752.5 L1399.6 755.1 L1401.0 757.8 L1402.4 760.4 L1403.8 763.0 L1405.2 765.7 L1406.7 768.3 L1408.1 771.0 L1409.5 773.6 L1411.0 776.3 L1412.4 778.9 L1413.8 781.6 L1415.2 784.2 L1416.6 786.9 L1418.1 789.5 L1419.5 792.2 L1420.9 794.8 L1422.2 797.5 L1423.6 800.2 L1425.0 802.8 L1426.4 805.5 L1427.8 808.2 L1429.1 810.8 L1430.5 813.5 L1431.8 816.2 L1433.2 818.9 L1434.5 821.6 L1435.8 824.3 L1437.2 827.0 L1438.5 829.7 L1439.8 832.4 L1441.1 835.1 L1442.4 837.8 L1443.7 840.5 L1445.0 843.2 L1446.2 845.9 L1447.5 848.6 L1448.8 851.3 L1450.1 854.1 L1451.3 856.8 L1452.6 859.5 L1453.9 862.2 L1455.2 864.9 L1456.5 867.6 L1457.7 870.3 L1459.0 873.0 L1460.3 875.8 L1461.7 878.5 L1463.0 881.2 L1464.3 883.8 L1465.6 886.5 L1467.0 889.2 L1468.3 891.9 L1469.6 894.6 L1471.0 897.3 L1472.3 900.0 L1473.7 902.7 L1475.0 905.3 L1476.4 908.0 L1477.8 910.7 L1479.1 913.4 L1480.5 916.0 L1481.9 918.7 L1483.2 921.4 L1484.6 924.0 L1486.0 926.7 L1487.3 929.4 L1488.7 932.1 L1490.1 934.7 L1491.5 937.4 L1492.8 940.0 L1494.2 942.7 L1495.6 945.4 L1497.0 948.0 L1498.4 950.7 L1499.8 953.3 L1501.2 956.0 L1502.6 958.7 L1504.0 961.3 L1505.4 964.0 L1506.8 966.6 L1508.2 969.3 L1509.6 971.9 L1511.0 974.6 L1512.5 977.2 L1513.9 979.8 L1515.3 982.5 L1516.8 985.1 L1518.2 987.7 L1519.7 990.4 L1521.2 993.0 L1522.6 995.6 L1524.1 998.2 L1525.6 1000.8 L1527.1 1003.4 L1528.6 1006.0 L1530.1 1008.6 L1531.7 1011.2 L1533.2 1013.8 L1534.7 1016.4 L1536.3 1018.9 L1537.8 1021.5 L1539.4 1024.1 L1541.0 1026.6 L1542.5 1029.2 L1544.1 1031.7 L1545.7 1034.3 L1547.3 1036.9 L1548.9 1039.4 L1550.4 1041.9 L1552.0 1044.5 L1553.6 1047.0 L1555.2 1049.6 L1556.9 1052.1 L1558.5 1054.6 L1560.1 1057.1 L1561.7 1059.7 L1563.3 1062.2 L1565.0 1064.7 L1566.6 1067.2 L1568.2 1069.7 L1569.9 1072.2 L1571.5 1074.7 L1573.2 1077.2 L1574.8 1079.7 L1576.5 1082.2 L1578.2 1084.7 L1579.8 1087.2 L1581.5 1089.7 L1583.1 1092.2 L1584.8 1094.7 L1586.5 1097.2 L1588.2 1099.7 L1589.8 1102.2 L1591.5 1104.6 L1593.2 1107.1 L1594.9 1109.6 L1596.6 1112.1 L1598.3 1114.5 L1600.0 1117.0 L1601.7 1119.5 L1603.4 1121.9 L1605.1 1124.4 L1606.9 1126.8 L1608.6 1129.3 L1610.4 1131.7 L1612.1 1134.1 L1613.9 1136.6 L1615.7 1139.0 L1617.4 1141.4 L1619.2 1143.8 L1621.0 1146.2 L1622.8 1148.6 L1624.6 1151.0 L1626.5 1153.4 L1628.3 1155.7 L1630.1 1158.1 L1632.0 1160.5 L1633.8 1162.8 L1635.7 1165.2 L1637.5 1167.5 L1639.4 1169.8 L1641.3 1172.2 L1643.2 1174.5 L1645.1 1176.8 L1647.0 1179.1 L1648.9 1181.4 L1650.9 1183.7 L1652.8 1186.0 L1654.7 1188.2 L1656.7 1190.5 L1658.7 1192.8 L1660.7 1195.0 L1662.6 1197.3 L1664.6 1199.5 L1666.6 1201.7 L1668.6 1204.0 L1670.7 1206.2 L1672.7 1208.4 L1674.7 1210.6 L1676.7 1212.8 L1678.8 1215.0 L1680.8 1217.2 L1682.9 1219.4 L1684.9 1221.5 L1687.0 1223.7 L1689.1 1225.9 L1691.2 1228.0 L1693.3 1230.2 L1695.4 1232.3 L1697.5 1234.4 L1699.6 1236.5 L1701.7 1238.7 L1703.9 1240.8 L1706.0 1242.9 L1708.1 1245.0 L1710.3 1247.1 L1712.5 1249.1 L1714.6 1251.2 L1716.8 1253.3 L1719.0 1255.3 L1721.2 1257.4 L1723.4 1259.4 L1725.7 1261.4 L1727.9 1263.4 L1730.1 1265.4 L1732.4 1267.4 L1734.7 1269.4 L1737.0 1271.3 L1739.3 1273.3 L1741.6 1275.2 L1743.9 1277.0 L1746.2 1278.9 L1748.6 1280.8 L1751.0 1282.6 L1753.4 1284.4 L1755.8 1286.2 L1758.2 1288.0 L1760.6 1289.8 L1763.1 1291.5 L1765.5 1293.2 L1768.0 1295.0 L1770.5 1296.7 L1772.9 1298.4 L1775.4 1300.1 L1777.9 1301.7 L1780.4 1303.4 L1782.9 1305.0 L1785.5 1306.7 L1788.0 1308.3 L1790.5 1309.9 L1793.1 1311.5 L1795.6 1313.1 L1798.2 1314.7 L1800.8 1316.2 L1803.3 1317.8 L1805.9 1319.3 L1808.5 1320.9 L1811.1 1322.4 L1813.7 1323.9 L1816.3 1325.4 L1818.9 1326.9 L1821.5 1328.4 L1824.1 1329.9 L1826.7 1331.4 L1829.3 1332.8 L1831.9 1334.3 L1834.5 1335.7 L1837.2 1337.2 L1839.8 1338.6 L1842.5 1340.0 L1845.1 1341.4 L1847.7 1342.8 L1850.4 1344.2 L1853.1 1345.6 L1855.7 1347.0 L1858.4 1348.3 L1861.1 1349.7 L1863.7 1351.0 L1866.4 1352.4 L1869.1 1353.7 L1871.8 1355.0 L1874.5 1356.3 L1877.2 1357.6 L1879.9 1358.9 L1882.6 1360.2 L1885.4 1361.4 L1888.1 1362.7 L1890.8 1363.9 L1893.5 1365.2 L1896.3 1366.4 L1899.0 1367.6 L1901.8 1368.9 L1904.5 1370.1 L1907.3 1371.3 L1910.0 1372.4 L1912.8 1373.6 L1915.5 1374.8 L1918.3 1376.0 L1921.1 1377.1 L1923.8 1378.3 L1926.6 1379.4 L1929.4 1380.5 L1932.2 1381.7 L1935.0 1382.8 L1937.7 1383.9 L1940.5 1385.0 L1943.3 1386.1 L1946.1 1387.1 L1948.9 1388.2 L1951.7 1389.3 L1954.6 1390.3 L1957.4 1391.4 L1960.2 1392.4 L1963.0 1393.4 L1965.8 1394.4 L1968.7 1395.4 L1971.5 1396.4 L1974.3 1397.4 L1977.2 1398.4 L1980.0 1399.3 L1982.9 1400.3 L1985.7 1401.2 L1988.6 1402.2 L1991.4 1403.1 L1994.3 1404.0 L1997.1 1404.9 L2000.0 1405.8 L2002.9 1406.7 L2005.7 1407.6 L2008.6 1408.4 L2011.5 1409.3 L2014.4 1410.1 L2017.2 1411.0 L2020.1 1411.8 L2023.0 1412.6 L2025.9 1413.4 L2028.8 1414.2 L2031.7 1415.0 L2034.6 1415.8 L2037.5 1416.6 L2040.4 1417.4 L2043.3 1418.2 L2046.2 1418.9 L2049.1 1419.7 L2052.0 1420.5 L2054.9 1421.2 L2057.8 1421.9 L2060.7 1422.7 L2063.6 1423.4 L2066.5 1424.2 L2069.4 1424.9 L2072.3 1425.7 L2075.2 1426.4 L2078.1 1427.2 L2081.0 1427.9 L2084.0 1428.7 L2086.9 1429.4 L2089.8 1430.1 L2092.7 1430.9 L2095.6 1431.6 L2098.5 1432.4 L2101.4 1433.1 L2104.3 1433.8 L2107.2 1434.6 L2110.1 1435.3 L2113.0 1436.0 L2115.9 1436.7 L2118.8 1437.5 L2121.8 1438.2 L2124.7 1438.9 L2127.6 1439.6 L2130.5 1440.3 L2133.4 1441.1 L2136.3 1441.8 L2139.2 1442.5 L2142.2 1443.2 L2145.1 1443.9 L2148.0 1444.6 L2150.9 1445.3 L2153.8 1446.0 L2156.7 1446.7 L2159.6 1447.4 L2162.6 1448.1 L2165.4 1448.8 L2168.3 1449.5 L2171.2 1450.2 L2174.0 1450.8 L2176.9 1451.5 L2179.7 1452.2 L2182.8 1452.9 L2185.9 1453.6 L2188.8 1454.3"/>
<path stroke="#2dbd68" stroke-width="4.7" d="M251.4 926.5 L252.1 929.4 L252.9 932.3 L253.6 935.2 L254.3 938.1 L255.1 941.1 L255.8 944.0 L256.5 946.9 L257.3 949.9 L258.0 952.8 L258.8 955.7 L259.6 958.6 L260.3 961.6 L261.1 964.5 L261.9 967.4 L262.7 970.3 L263.5 973.2 L264.3 976.1 L265.1 979.0 L265.9 981.9 L266.7 984.8 L267.5 987.7 L268.4 990.6 L269.2 993.5 L270.0 996.3 L270.9 999.2 L271.7 1002.1 L272.6 1005.0 L273.5 1007.8 L274.3 1010.7 L275.2 1013.6 L276.1 1016.4 L277.0 1019.2 L277.9 1022.1 L278.8 1024.9 L279.8 1027.8 L280.7 1030.6 L281.7 1033.4 L282.7 1036.3 L283.6 1039.1 L284.6 1041.9 L285.6 1044.8 L286.6 1047.6 L287.6 1050.4 L288.6 1053.2 L289.6 1056.1 L290.6 1058.9 L291.6 1061.7 L292.6 1064.6 L293.6 1067.4 L294.7 1070.2 L295.7 1073.0 L296.7 1075.8 L297.8 1078.6 L298.9 1081.4 L300.0 1084.2 L301.0 1087.0 L302.1 1089.8 L303.2 1092.7 L304.3 1095.4 L305.5 1098.2 L306.7 1101.0 L307.9 1103.8 L309.1 1106.5 L310.3 1109.3 L311.5 1112.0 L312.8 1114.8 L314.1 1117.5 L315.4 1120.2 L316.7 1122.9 L318.1 1125.6 L319.5 1128.3 L320.9 1130.9 L322.4 1133.6 L323.9 1136.2 L325.4 1138.8 L326.9 1141.4 L328.5 1144.0 L330.1 1146.7 L331.7 1149.3 L333.3 1151.8 L335.0 1154.2 L336.8 1156.8 L338.6 1159.2 L340.5 1161.5 L342.4 1163.7 L344.4 1165.9 L346.4 1168.0 L348.4 1170.1 L350.6 1172.2 L353.0 1174.1 L355.4 1176.0 L357.8 1177.6 L360.2 1179.1 L362.7 1180.4 L365.2 1181.7 L367.8 1182.8 L370.5 1183.6 L373.4 1184.2 L376.2 1184.5 L379.1 1184.6 L381.8 1184.5 L384.6 1184.3 L387.3 1183.9 L390.1 1183.3 L392.9 1182.4 L395.5 1181.3 L398.0 1179.8 L400.5 1178.2 L402.9 1176.5 L405.3 1174.7 L407.6 1172.7 L410.0 1170.4 L412.2 1168.0 L414.2 1165.5 L416.0 1162.9 L417.7 1160.3 L419.3 1157.7 L420.9 1155.0 L422.5 1152.3 L423.9 1149.3 L425.3 1146.4 L426.6 1143.5 L427.8 1140.6 L429.0 1137.7 L430.1 1134.7 L431.2 1131.9 L432.2 1129.0 L433.3 1126.2 L434.4 1123.3 L435.4 1120.5 L436.4 1117.6 L437.4 1114.7 L438.4 1111.9 L439.4 1109.0 L440.3 1106.1 L441.3 1103.2 L442.2 1100.4 L443.2 1097.5 L444.1 1094.6 L445.0 1091.8 L445.9 1088.9 L446.9 1086.0 L447.8 1083.2 L448.7 1080.3 L449.6 1077.4 L450.5 1074.6 L451.4 1071.7 L452.3 1068.9 L453.2 1066.0 L454.1 1063.2 L455.0 1060.4 L455.9 1057.6 L456.8 1054.7 L457.7 1051.9 L458.5 1049.0 L459.4 1046.2 L460.3 1043.3 L461.1 1040.5 L462.0 1037.7 L462.8 1034.8 L463.7 1032.0 L464.5 1029.1 L465.4 1026.2 L466.2 1023.3 L467.0 1020.5 L467.9 1017.6 L468.7 1014.7 L469.5 1011.8 L470.3 1008.9 L471.1 1006.0 L471.9 1003.1 L472.7 1000.2 L473.5 997.3 L474.3 994.4 L475.1 991.5 L475.8 988.6 L476.6 985.7 L477.4 982.7 L478.1 979.8 L478.9 976.9 L479.7 974.0 L480.4 971.1 L481.2 968.2 L481.9 965.3 L482.7 962.4 L483.4 959.4 L484.1 956.5 L484.9 953.6 L485.6 950.7 L486.3 947.8 L487.1 944.9 L487.8 942.0 L488.5 939.0 L489.3 936.1 L490.0 933.2 L490.8 930.3 L491.5 927.4 L492.3 924.5 L493.0 921.6 L493.8 918.7 L494.6 915.8 L495.3 912.9 L496.1 910.0 L496.9 907.1 L497.7 904.2 L498.5 901.3 L499.3 898.4 L500.1 895.5 L500.8 892.6 L501.6 889.7 L502.4 886.8 L503.3 883.9 L504.1 881.0 L504.9 878.1 L505.7 875.3 L506.5 872.4 L507.3 869.5 L508.1 866.6 L508.9 863.7 L509.8 860.9 L510.6 858.0 L511.4 855.1 L512.2 852.2 L513.0 849.4 L513.8 846.5 L514.6 843.6 L515.4 840.7 L516.2 837.8 L517.0 834.9 L517.8 832.1 L518.6 829.2 L519.4 826.3 L520.2 823.4 L521.0 820.5 L521.8 817.7 L522.6 814.8 L523.4 811.9 L524.2 809.0 L525.0 806.1 L525.7 803.2 L526.5 800.4 L527.3 797.5 L528.1 794.6 L528.9 791.7 L529.7 788.8 L530.5 785.9 L531.2 783.1 L532.0 780.2 L532.8 777.3 L533.5 774.4 L534.3 771.5 L535.1 768.6 L535.9 765.7 L536.6 762.8 L537.4 759.9 L538.2 757.0 L538.9 754.1 L539.7 751.2 L540.5 748.3 L541.2 745.4 L542.0 742.4 L542.7 739.5 L543.5 736.6 L544.3 733.7 L545.1 730.8 L545.9 727.9 L546.6 725.0 L547.4 722.0 L548.2 719.1 L549.0 716.2 L549.7 713.3 L550.5 710.4 L551.3 707.5 L552.1 704.6 L552.8 701.6 L553.6 698.7 L554.4 695.8 L555.2 692.9 L555.9 690.0 L556.7 687.1 L557.5 684.1 L558.2 681.2 L559.0 678.3 L559.7 675.4 L560.5 672.5 L561.2 669.6 L562.0 666.7 L562.8 663.8 L563.6 660.9 L564.3 658.0 L565.1 655.1 L565.9 652.2 L566.7 649.4 L567.5 646.5 L568.2 643.6 L569.0 640.7 L569.8 637.8 L570.6 634.9 L571.4 632.0 L572.2 629.1 L573.0 626.2 L573.9 623.4 L574.7 620.5 L575.5 617.6 L576.3 614.7 L577.1 611.9 L578.0 609.0 L578.8 606.1 L579.6 603.2 L580.4 600.4 L581.2 597.5 L582.0 594.6 L582.9 591.7 L583.7 588.8 L584.5 586.0 L585.3 583.1 L586.2 580.2 L587.0 577.3 L587.8 574.4 L588.6 571.5 L589.5 568.6 L590.3 565.8 L591.1 562.9 L592.0 560.0 L592.8 557.1 L593.6 554.2 L594.5 551.3 L595.3 548.5 L596.1 545.6 L596.9 542.7 L597.8 539.8 L598.6 536.9 L599.4 534.0 L600.3 531.1 L601.1 528.3 L602.0 525.4 L602.8 522.5 L603.6 519.6 L604.5 516.7 L605.3 513.8 L606.1 510.9 L606.9 508.1 L607.8 505.2 L608.6 502.3 L609.5 499.4 L610.3 496.5 L611.2 493.7 L612.0 490.8 L612.8 487.9 L613.7 485.0 L614.5 482.2 L615.4 479.3 L616.3 476.4 L617.2 473.6 L618.1 470.7 L619.0 467.8 L619.9 465.0 L620.8 462.1 L621.7 459.3 L622.6 456.4 L623.6 453.6 L624.5 450.7 L625.4 447.9 L626.4 445.1 L627.3 442.2 L628.3 439.4 L629.3 436.5 L630.3 433.7 L631.2 430.9 L632.2 428.0 L633.2 425.2 L634.2 422.4 L635.2 419.5 L636.3 416.7 L637.3 413.9 L638.3 411.1 L639.3 408.3 L640.4 405.4 L641.4 402.6 L642.5 399.8 L643.5 397.0 L644.6 394.2 L645.6 391.4 L646.7 388.6 L647.8 385.8 L648.8 383.0 L649.9 380.2 L651.0 377.4 L652.1 374.6 L653.2 371.8 L654.3 369.1 L655.5 366.3 L656.6 363.5 L657.7 360.7 L658.8 358.0 L660.0 355.2 L661.1 352.4 L662.3 349.7 L663.4 346.9 L664.6 344.2 L665.8 341.4 L666.9 338.6 L668.1 335.9 L669.3 333.1 L670.4 330.3 L671.6 327.6 L672.8 324.8 L674.0 322.1 L675.2 319.3 L676.3 316.6 L677.5 313.8 L678.7 311.1 L679.9 308.3 L681.0 305.6 L682.2 302.8 L683.4 300.1 L684.6 297.3 L685.8 294.6 L687.0 291.8 L688.1 289.1 L689.3 286.3 L690.5 283.5 L691.7 280.8 L692.9 278.0 L694.0 275.3 L695.2 272.5 L696.4 269.7 L697.6 267.0 L698.9 264.2 L700.1 261.5 L701.3 258.8 L702.6 256.0 L703.9 253.3 L705.2 250.6 L706.5 247.9 L707.8 245.2 L709.2 242.5 L710.5 239.8 L711.9 237.2 L713.4 234.5 L714.8 231.9 L716.3 229.2 L717.8 226.6 L719.3 224.0 L720.9 221.5 L722.5 218.9 L724.1 216.3 L725.7 213.8 L727.4 211.3 L729.2 208.9 L730.9 206.4 L732.7 204.0 L734.5 201.6 L736.4 199.2 L738.2 196.8 L740.1 194.5 L742.1 192.2 L744.1 189.9 L746.1 187.6 L748.1 185.4 L750.2 183.2 L752.3 181.1 L754.4 179.0 L756.6 176.9 L758.8 174.8 L761.1 172.8 L763.3 170.8 L765.7 168.9 L768.0 167.0 L770.4 165.2 L772.8 163.5 L775.3 161.8 L777.8 160.1 L780.4 158.6 L783.0 157.1 L785.6 155.7 L788.3 154.4 L791.0 153.2 L793.7 152.0 L796.5 151.0 L799.3 150.0 L802.1 149.2 L805.0 148.5 L807.9 147.8 L810.8 147.3 L813.7 146.9 L816.7 146.6 L819.6 146.4 L822.6 146.3 L825.6 146.3 L828.5 146.5 L831.5 146.7 L834.4 147.1 L837.4 147.5 L840.3 148.1 L843.2 148.7 L846.1 149.4 L848.9 150.2 L851.8 151.0 L854.6 152.0 L857.4 152.9 L860.2 154.0 L863.0 155.1 L865.7 156.2 L868.5 157.5 L871.2 158.7 L873.9 160.1 L876.6 161.4 L879.3 162.8 L881.9 164.3 L884.6 165.7 L887.2 167.2 L889.8 168.7 L892.4 170.2 L895.0 171.7 L897.5 173.3 L900.1 174.8 L902.6 176.5 L905.1 178.1 L907.6 179.8 L910.0 181.5 L912.5 183.2 L914.9 184.9 L917.4 186.7 L919.8 188.5 L922.2 190.2 L924.6 192.0 L927.0 193.8 L929.4 195.6 L931.8 197.4 L934.3 199.2 L936.7 201.0 L939.1 202.8 L941.5 204.6 L943.9 206.4 L946.3 208.1 L948.7 209.9 L951.2 211.7 L953.6 213.5 L956.0 215.3 L958.4 217.0 L960.8 218.8 L963.3 220.6 L965.7 222.4 L968.1 224.1 L970.5 225.9 L972.9 227.7 L975.4 229.5 L977.8 231.3 L980.2 233.0 L982.6 234.8 L985.0 236.6 L987.4 238.5 L989.8 240.3 L992.1 242.1 L994.5 243.9 L996.9 245.8 L999.2 247.6 L1001.6 249.4 L1004.0 251.3 L1006.4 253.1 L1008.8 254.9 L1011.1 256.8 L1013.5 258.6 L1015.9 260.4 L1018.3 262.2 L1020.7 264.0 L1023.1 265.8 L1025.5 267.6 L1027.9 269.4 L1030.3 271.2 L1032.7 273.0 L1035.1 274.7 L1037.6 276.5 L1040.0 278.2 L1042.5 280.0 L1044.9 281.7 L1047.4 283.4 L1049.9 285.1 L1052.3 286.8 L1054.8 288.5 L1057.3 290.2 L1059.7 291.9 L1062.2 293.6 L1064.7 295.3 L1067.2 297.0 L1069.7 298.6 L1072.2 300.3 L1074.7 301.9 L1077.2 303.5 L1079.8 305.2 L1082.3 306.8 L1084.8 308.4 L1087.4 310.0 L1089.9 311.5 L1092.5 313.1 L1095.0 314.7 L1097.6 316.3 L1100.1 317.9 L1102.6 319.5 L1105.2 321.1 L1107.7 322.7 L1110.2 324.3 L1112.8 325.9 L1115.3 327.5 L1117.8 329.1 L1120.3 330.8 L1122.8 332.4 L1125.3 334.0 L1127.8 335.7 L1130.3 337.3 L1132.8 339.0 L1135.3 340.6 L1137.8 342.3 L1140.3 343.9 L1142.8 345.6 L1145.3 347.2 L1147.8 348.9 L1150.2 350.6 L1152.7 352.3 L1155.2 354.0 L1157.6 355.7 L1160.1 357.4 L1162.5 359.2 L1165.0 360.9 L1167.4 362.7 L1169.9 364.4 L1172.3 366.2 L1174.7 368.0 L1177.2 369.7 L1179.6 371.5 L1182.0 373.3 L1184.4 375.1 L1186.8 377.0 L1189.1 378.8 L1191.5 380.6 L1193.9 382.5 L1196.2 384.4 L1198.6 386.3 L1200.9 388.2 L1203.2 390.1 L1205.5 392.0 L1207.8 394.0 L1210.0 395.9 L1212.3 397.9 L1214.5 399.9 L1216.7 401.9 L1219.0 404.0 L1221.1 406.0 L1223.3 408.1 L1225.5 410.2 L1227.6 412.3 L1229.7 414.4 L1231.8 416.5 L1233.9 418.7 L1236.0 420.9 L1238.0 423.1 L1240.1 425.3 L1242.1 427.5 L1244.1 429.7 L1246.1 432.0 L1248.0 434.3 L1250.0 436.5 L1251.9 438.8 L1253.9 441.2 L1255.8 443.5 L1257.7 445.8 L1259.6 448.1 L1261.4 450.5 L1263.3 452.9 L1265.2 455.2 L1267.0 457.6 L1268.9 460.0 L1270.7 462.4 L1272.5 464.8 L1274.4 467.1 L1276.2 469.5 L1278.0 471.9 L1279.8 474.4 L1281.6 476.8 L1283.4 479.2 L1285.2 481.6 L1287.0 484.0 L1288.7 486.4 L1290.5 488.8 L1292.3 491.2 L1294.1 493.6 L1295.9 496.0 L1297.7 498.4 L1299.5 500.8 L1301.3 503.2 L1303.1 505.6 L1304.9 508.0 L1306.7 510.4 L1308.5 512.8 L1310.3 515.2 L1312.1 517.6 L1313.8 520.0 L1315.6 522.4 L1317.4 524.8 L1319.2 527.2 L1321.0 529.6 L1322.7 532.1 L1324.5 534.5 L1326.2 537.0 L1327.9 539.4 L1329.7 541.9 L1331.4 544.3 L1333.1 546.8 L1334.7 549.3 L1336.4 551.8 L1338.1 554.3 L1339.7 556.8 L1341.3 559.4 L1343.0 561.9 L1344.6 564.4 L1346.2 567.0 L1347.7 569.5 L1349.3 572.1 L1350.9 574.7 L1352.4 577.2 L1354.0 579.8 L1355.5 582.4 L1357.0 585.0 L1358.5 587.7 L1359.9 590.3 L1361.4 592.9 L1362.8 595.6 L1364.3 598.2 L1365.7 600.9 L1367.1 603.5 L1368.5 606.2 L1369.8 608.9 L1371.2 611.5 L1372.6 614.2 L1373.9 616.9 L1375.3 619.6 L1376.6 622.3 L1378.0 625.0 L1379.3 627.6 L1380.6 630.3 L1382.0 633.0 L1383.3 635.7 L1384.6 638.4 L1385.9 641.1 L1387.3 643.8 L1388.6 646.5 L1389.9 649.2 L1391.2 651.9 L1392.5 654.6 L1393.8 657.3 L1395.1 659.9 L1396.4 662.6 L1397.7 665.3 L1399.0 668.0 L1400.3 670.8 L1401.6 673.5 L1402.9 676.2 L1404.2 678.9 L1405.5 681.6 L1406.8 684.3 L1408.0 687.0 L1409.3 689.7 L1410.6 692.4 L1411.9 695.1 L1413.2 697.8 L1414.5 700.5 L1415.7 703.3 L1417.0 706.0 L1418.3 708.7 L1419.6 711.4 L1420.9 714.1 L1422.1 716.8 L1423.4 719.5 L1424.7 722.2 L1426.0 724.9 L1427.3 727.6 L1428.6 730.3 L1429.9 733.0 L1431.2 735.7 L1432.5 738.4 L1433.8 741.1 L1435.1 743.8 L1436.4 746.5 L1437.7 749.2 L1439.1 751.9 L1440.4 754.6 L1441.7 757.3 L1443.1 760.0 L1444.4 762.7 L1445.8 765.3 L1447.1 768.0 L1448.5 770.7 L1449.9 773.4 L1451.2 776.0 L1452.6 778.7 L1454.0 781.4 L1455.4 784.0 L1456.7 786.7 L1458.1 789.4 L1459.5 792.0 L1460.8 794.7 L1462.2 797.4 L1463.6 800.1 L1464.9 802.7 L1466.3 805.4 L1467.6 808.1 L1469.0 810.8 L1470.3 813.4 L1471.7 816.1 L1473.1 818.8 L1474.4 821.5 L1475.7 824.2 L1477.1 826.9 L1478.4 829.6 L1479.8 832.2 L1481.1 834.9 L1482.4 837.6 L1483.7 840.3 L1485.1 843.0 L1486.4 845.7 L1487.7 848.4 L1489.0 851.1 L1490.3 853.8 L1491.6 856.5 L1492.9 859.2 L1494.2 862.0 L1495.4 864.7 L1496.7 867.4 L1498.0 870.1 L1499.3 872.8 L1500.5 875.5 L1501.8 878.2 L1503.1 880.9 L1504.4 883.7 L1505.6 886.4 L1506.9 889.1 L1508.2 891.8 L1509.5 894.5 L1510.8 897.2 L1512.0 900.0 L1513.3 902.7 L1514.6 905.4 L1515.9 908.1 L1517.2 910.8 L1518.5 913.5 L1519.8 916.2 L1521.1 918.9 L1522.4 921.6 L1523.7 924.3 L1525.0 927.0 L1526.3 929.7 L1527.6 932.4 L1528.9 935.1 L1530.3 937.8 L1531.6 940.5 L1532.9 943.2 L1534.3 945.9 L1535.6 948.5 L1537.0 951.2 L1538.4 953.9 L1539.7 956.5 L1541.1 959.2 L1542.5 961.9 L1543.9 964.5 L1545.3 967.2 L1546.7 969.8 L1548.1 972.5 L1549.6 975.1 L1551.0 977.7 L1552.5 980.4 L1553.9 983.0 L1555.4 985.6 L1556.9 988.2 L1558.4 990.8 L1559.9 993.4 L1561.4 996.0 L1562.9 998.6 L1564.4 1001.2 L1566.0 1003.8 L1567.5 1006.3 L1569.1 1008.9 L1570.7 1011.5 L1572.2 1014.0 L1573.8 1016.6 L1575.4 1019.1 L1577.0 1021.6 L1578.6 1024.2 L1580.2 1026.7 L1581.8 1029.2 L1583.4 1031.8 L1585.1 1034.3 L1586.7 1036.8 L1588.3 1039.3 L1589.9 1041.8 L1591.6 1044.3 L1593.2 1046.9 L1594.8 1049.4 L1596.4 1051.9 L1598.1 1054.4 L1599.7 1056.9 L1601.4 1059.4 L1603.0 1061.9 L1604.6 1064.5 L1606.3 1067.0 L1607.9 1069.5 L1609.6 1072.0 L1611.3 1074.5 L1612.9 1077.0 L1614.6 1079.5 L1616.2 1081.9 L1617.9 1084.4 L1619.6 1086.9 L1621.3 1089.4 L1623.0 1091.9 L1624.7 1094.4 L1626.4 1096.8 L1628.1 1099.3 L1629.8 1101.8 L1631.5 1104.2 L1633.2 1106.7 L1635.0 1109.1 L1636.7 1111.6 L1638.5 1114.0 L1640.3 1116.4 L1642.1 1118.8 L1643.9 1121.2 L1645.7 1123.6 L1647.5 1126.0 L1649.4 1128.4 L1651.3 1130.7 L1653.1 1133.0 L1655.0 1135.4 L1656.9 1137.7 L1658.8 1140.0 L1660.7 1142.3 L1662.6 1144.6 L1664.6 1146.9 L1666.5 1149.2 L1668.5 1151.4 L1670.4 1153.7 L1672.4 1155.9 L1674.4 1158.2 L1676.4 1160.4 L1678.4 1162.6 L1680.4 1164.8 L1682.5 1167.0 L1684.5 1169.2 L1686.5 1171.4 L1688.6 1173.6 L1690.6 1175.8 L1692.7 1177.9 L1694.7 1180.1 L1696.8 1182.3 L1698.8 1184.4 L1700.9 1186.6 L1703.0 1188.8 L1705.1 1190.9 L1707.2 1193.1 L1709.3 1195.2 L1711.3 1197.4 L1713.4 1199.5 L1715.5 1201.6 L1717.6 1203.8 L1719.8 1205.9 L1721.9 1208.0 L1724.0 1210.2 L1726.1 1212.3 L1728.2 1214.4 L1730.3 1216.5 L1732.5 1218.6 L1734.6 1220.7 L1736.8 1222.8 L1738.9 1224.9 L1741.1 1227.0 L1743.2 1229.1 L1745.4 1231.1 L1747.6 1233.2 L1749.8 1235.2 L1752.0 1237.3 L1754.3 1239.3 L1756.5 1241.3 L1758.8 1243.2 L1761.0 1245.2 L1763.3 1247.1 L1765.6 1249.1 L1767.9 1251.0 L1770.2 1252.9 L1772.6 1254.8 L1774.9 1256.7 L1777.2 1258.5 L1779.6 1260.4 L1782.0 1262.2 L1784.4 1264.1 L1786.7 1265.9 L1789.2 1267.7 L1791.6 1269.5 L1794.0 1271.2 L1796.4 1273.0 L1798.9 1274.7 L1801.3 1276.5 L1803.8 1278.2 L1806.3 1279.9 L1808.7 1281.6 L1811.2 1283.3 L1813.7 1285.0 L1816.2 1286.7 L1818.7 1288.4 L1821.2 1290.0 L1823.7 1291.7 L1826.2 1293.3 L1828.8 1294.9 L1831.3 1296.5 L1833.8 1298.1 L1836.4 1299.7 L1838.9 1301.3 L1841.5 1302.9 L1844.0 1304.5 L1846.6 1306.0 L1849.2 1307.6 L1851.8 1309.1 L1854.3 1310.6 L1856.9 1312.2 L1859.5 1313.7 L1862.1 1315.1 L1864.7 1316.6 L1867.4 1318.1 L1870.0 1319.5 L1872.6 1321.0 L1875.3 1322.4 L1877.9 1323.8 L1880.5 1325.2 L1883.2 1326.6 L1885.9 1328.0 L1888.5 1329.4 L1891.2 1330.8 L1893.9 1332.1 L1896.5 1333.5 L1899.2 1334.8 L1901.9 1336.1 L1904.6 1337.4 L1907.3 1338.8 L1910.0 1340.1 L1912.7 1341.3 L1915.4 1342.6 L1918.2 1343.9 L1920.9 1345.2 L1923.6 1346.4 L1926.3 1347.7 L1929.1 1348.9 L1931.8 1350.2 L1934.5 1351.4 L1937.3 1352.6 L1940.0 1353.8 L1942.8 1355.0 L1945.5 1356.2 L1948.3 1357.4 L1951.0 1358.6 L1953.8 1359.8 L1956.5 1360.9 L1959.3 1362.1 L1962.1 1363.3 L1964.8 1364.4 L1967.6 1365.6 L1970.4 1366.7 L1973.1 1367.8 L1975.9 1369.0 L1978.7 1370.1 L1981.5 1371.2 L1984.3 1372.3 L1987.1 1373.3 L1989.9 1374.4 L1992.7 1375.5 L1995.5 1376.5 L1998.3 1377.5 L2001.2 1378.6 L2004.0 1379.6 L2006.8 1380.6 L2009.6 1381.5 L2012.5 1382.5 L2015.3 1383.5 L2018.2 1384.4 L2021.0 1385.3 L2023.9 1386.2 L2026.7 1387.1 L2029.6 1388.0 L2032.5 1388.9 L2035.3 1389.8 L2038.2 1390.7 L2041.1 1391.5 L2044.0 1392.4 L2046.8 1393.2 L2049.7 1394.0 L2052.6 1394.9 L2055.5 1395.7 L2058.4 1396.5 L2061.3 1397.3 L2064.2 1398.1 L2067.1 1398.9 L2069.9 1399.7 L2072.8 1400.5 L2075.7 1401.2 L2078.6 1402.0 L2081.5 1402.8 L2084.4 1403.6 L2087.3 1404.3 L2090.2 1405.1 L2093.1 1405.8 L2096.0 1406.6 L2098.9 1407.3 L2101.8 1408.1 L2104.7 1408.8 L2107.7 1409.5 L2110.6 1410.3 L2113.5 1411.0 L2116.4 1411.7 L2119.3 1412.4 L2122.2 1413.1 L2125.1 1413.8 L2128.0 1414.5 L2131.0 1415.2 L2133.9 1415.9 L2136.8 1416.6 L2139.7 1417.3 L2142.7 1417.9 L2145.6 1418.6 L2148.5 1419.3 L2151.4 1419.9 L2154.4 1420.6 L2157.3 1421.2 L2160.2 1421.9 L2163.1 1422.5 L2166.1 1423.1 L2168.9 1423.7 L2171.8 1424.4 L2174.7 1425.0 L2177.5 1425.6 L2180.5 1426.2 L2183.6 1426.8 L2186.7 1427.5 L2189.6 1428.1"/>
<path stroke="#62629a" stroke-width="4.2" d="M251.9 848.1 L252.5 851.1 L253.1 854.0 L253.7 856.9 L254.3 859.9 L255.0 862.8 L255.6 865.8 L256.2 868.8 L256.8 871.7 L257.5 874.7 L258.1 877.6 L258.8 880.6 L259.4 883.6 L260.0 886.5 L260.7 889.5 L261.3 892.4 L262.0 895.4 L262.6 898.3 L263.3 901.2 L264.0 904.2 L264.6 907.1 L265.3 910.1 L266.0 913.0 L266.6 915.9 L267.3 918.8 L268.0 921.8 L268.7 924.7 L269.4 927.6 L270.1 930.5 L270.7 933.4 L271.4 936.3 L272.1 939.2 L272.8 942.1 L273.5 945.0 L274.2 947.9 L274.9 950.8 L275.6 953.7 L276.3 956.6 L277.0 959.5 L277.8 962.4 L278.5 965.3 L279.1 968.2 L279.8 971.1 L280.5 973.9 L281.2 976.8 L281.9 979.7 L282.7 982.6 L283.4 985.5 L284.1 988.4 L284.9 991.2 L285.7 994.1 L286.5 997.0 L287.3 999.9 L288.1 1002.8 L288.9 1005.7 L289.7 1008.6 L290.6 1011.5 L291.5 1014.4 L292.4 1017.3 L293.4 1020.1 L294.3 1023.0 L295.2 1025.9 L296.2 1028.8 L297.2 1031.7 L298.1 1034.5 L299.0 1037.4 L299.9 1040.3 L300.8 1043.1 L301.7 1046.0 L302.6 1048.8 L303.5 1051.7 L304.4 1054.5 L305.3 1057.4 L306.2 1060.2 L307.2 1063.1 L308.1 1065.9 L309.1 1068.8 L310.0 1071.6 L311.0 1074.4 L312.1 1077.2 L313.2 1080.1 L314.2 1082.9 L315.3 1085.7 L316.4 1088.6 L317.5 1091.5 L318.7 1094.4 L320.0 1097.3 L321.4 1100.1 L322.9 1102.8 L324.5 1105.3 L326.2 1107.8 L328.0 1110.2 L329.9 1112.7 L332.0 1114.9 L334.3 1116.8 L336.6 1118.4 L339.1 1119.6 L341.5 1120.5 L343.9 1121.2 L346.2 1121.6 L348.7 1121.8 L351.1 1121.6 L353.4 1120.9 L355.6 1119.8 L357.9 1118.5 L360.1 1116.9 L362.3 1114.9 L364.2 1112.7 L366.0 1110.3 L367.7 1107.6 L369.2 1104.7 L370.7 1101.8 L372.0 1099.0 L373.3 1096.2 L374.5 1093.3 L375.6 1090.3 L376.6 1087.4 L377.6 1084.5 L378.6 1081.6 L379.6 1078.7 L380.6 1075.8 L381.6 1073.0 L382.6 1070.2 L383.5 1067.3 L384.5 1064.5 L385.4 1061.6 L386.3 1058.8 L387.2 1056.0 L388.0 1053.1 L388.8 1050.3 L389.7 1047.4 L390.4 1044.5 L391.2 1041.7 L392.0 1038.8 L392.8 1035.8 L393.6 1032.9 L394.4 1030.0 L395.2 1027.1 L396.0 1024.2 L396.8 1021.2 L397.5 1018.3 L398.3 1015.3 L399.1 1012.4 L399.8 1009.4 L400.6 1006.5 L401.3 1003.6 L402.0 1000.6 L402.7 997.7 L403.4 994.7 L404.1 991.8 L404.8 988.9 L405.5 985.9 L406.2 983.0 L406.8 980.1 L407.5 977.2 L408.1 974.3 L408.8 971.4 L409.4 968.5 L410.0 965.6 L410.6 962.7 L411.2 959.8 L411.8 956.9 L412.4 954.0 L413.0 951.0 L413.5 948.1 L414.1 945.2 L414.6 942.2 L415.1 939.2 L415.7 936.3 L416.2 933.3 L416.7 930.3 L417.2 927.4 L417.8 924.4 L418.3 921.5 L418.7 918.5 L419.2 915.5 L419.7 912.6 L420.2 909.6 L420.6 906.6 L421.1 903.7 L421.6 900.7 L422.2 897.8 L422.7 894.9 L423.2 891.9 L423.7 888.9 L424.2 886.0 L424.7 883.0 L425.1 880.0 L425.6 877.1 L426.1 874.1 L426.6 871.1 L427.1 868.2 L427.6 865.2 L428.0 862.3 L428.6 859.4 L429.0 856.5 L429.5 853.5 L429.9 850.4 L430.2 847.4 L430.5 844.3 L431.0 841.3 L431.4 838.3 L431.9 835.3 L432.3 832.3 L432.8 829.4 L433.3 826.4 L433.7 823.4 L434.2 820.4 L434.6 817.4 L435.1 814.4 L435.6 811.5 L436.0 808.5 L436.5 805.5 L436.9 802.6 L437.3 799.6 L437.7 796.6 L438.1 793.7 L438.7 790.8 L439.4 788.0 L440.0 785.1 L440.5 782.2 L441.1 779.3 L441.6 776.4 L442.1 773.4 L442.6 770.5 L443.1 767.6 L443.7 764.6 L444.3 761.7 L444.8 758.8 L445.3 755.8 L445.8 752.8 L446.3 749.8 L446.8 746.8 L447.2 743.8 L447.7 740.9 L448.2 737.9 L448.6 734.9 L449.1 731.9 L449.6 728.9 L450.0 725.9 L450.5 723.0 L450.9 720.0 L451.4 717.1 L451.9 714.1 L452.4 711.1 L452.8 708.2 L453.3 705.2 L453.8 702.3 L454.3 699.3 L454.8 696.3 L455.2 693.4 L455.7 690.4 L456.1 687.5 L456.6 684.5 L457.1 681.5 L457.6 678.6 L458.1 675.6 L458.6 672.6 L459.1 669.6 L459.6 666.7 L460.1 663.7 L460.6 660.7 L461.1 657.8 L461.7 654.8 L462.2 651.8 L462.7 648.8 L463.3 645.8 L463.9 642.9 L464.4 639.9 L464.8 636.9 L465.3 634.0 L465.8 631.0 L466.4 628.1 L466.9 625.1 L467.5 622.2 L468.0 619.2 L468.6 616.3 L469.1 613.3 L469.7 610.4 L470.3 607.5 L470.9 604.5 L471.5 601.6 L472.0 598.6 L472.6 595.7 L473.2 592.8 L473.8 589.8 L474.5 586.9 L475.1 584.0 L475.8 581.0 L476.4 578.1 L477.1 575.2 L477.7 572.2 L478.4 569.3 L479.1 566.4 L479.8 563.4 L480.5 560.5 L481.2 557.6 L482.0 554.6 L482.7 551.7 L483.5 548.8 L484.2 545.9 L485.0 543.0 L485.8 540.0 L486.6 537.1 L487.3 534.2 L488.1 531.3 L488.9 528.4 L489.7 525.5 L490.6 522.6 L491.4 519.7 L492.3 516.8 L493.1 513.9 L494.0 511.0 L494.9 508.1 L495.8 505.2 L496.7 502.4 L497.7 499.5 L498.7 496.6 L499.7 493.8 L500.7 491.0 L501.8 488.1 L502.8 485.3 L503.9 482.5 L505.0 479.7 L506.1 476.9 L507.3 474.2 L508.5 471.4 L509.7 468.7 L510.9 465.9 L512.1 463.2 L513.3 460.5 L514.6 457.7 L515.9 455.0 L517.1 452.3 L518.5 449.6 L519.8 446.9 L521.1 444.2 L522.5 441.6 L523.9 438.9 L525.3 436.3 L526.7 433.7 L528.2 431.0 L529.6 428.4 L531.1 425.8 L532.5 423.2 L534.0 420.6 L535.5 418.0 L537.0 415.4 L538.6 412.8 L540.1 410.3 L541.7 407.7 L543.2 405.2 L544.8 402.6 L546.3 400.0 L547.8 397.5 L549.4 394.9 L551.0 392.4 L552.5 389.8 L554.1 387.3 L555.6 384.7 L557.2 382.2 L558.8 379.6 L560.4 377.1 L562.0 374.6 L563.6 372.1 L565.2 369.6 L566.9 367.1 L568.5 364.5 L570.2 362.0 L571.8 359.6 L573.5 357.1 L575.1 354.6 L576.8 352.1 L578.5 349.6 L580.2 347.1 L581.8 344.6 L583.5 342.1 L585.2 339.6 L586.8 337.1 L588.5 334.7 L590.2 332.2 L591.9 329.7 L593.6 327.3 L595.3 324.8 L597.0 322.3 L598.7 319.9 L600.4 317.4 L602.1 314.9 L603.8 312.5 L605.6 310.0 L607.3 307.6 L609.1 305.2 L610.8 302.7 L612.6 300.3 L614.3 297.9 L616.1 295.5 L617.9 293.0 L619.6 290.6 L621.4 288.2 L623.2 285.8 L625.0 283.4 L626.8 281.0 L628.6 278.7 L630.5 276.3 L632.4 274.0 L634.3 271.7 L636.2 269.4 L638.2 267.2 L640.1 264.9 L642.1 262.7 L644.1 260.5 L646.2 258.3 L648.2 256.2 L650.3 254.0 L652.4 251.9 L654.6 249.8 L656.7 247.7 L658.9 245.7 L661.1 243.6 L663.3 241.6 L665.6 239.6 L667.9 237.6 L670.2 235.7 L672.6 233.9 L675.0 232.0 L677.4 230.3 L679.9 228.5 L682.4 226.8 L684.9 225.2 L687.5 223.6 L690.2 222.2 L692.8 220.7 L695.6 219.4 L698.3 218.2 L701.1 217.0 L703.9 215.9 L706.8 214.9 L709.7 214.0 L712.6 213.3 L715.5 212.6 L718.5 212.1 L721.5 211.6 L724.5 211.3 L727.5 211.1 L730.5 211.0 L733.5 211.1 L736.5 211.3 L739.5 211.5 L742.5 211.9 L745.5 212.5 L748.4 213.1 L751.3 213.8 L754.2 214.7 L757.1 215.6 L760.0 216.6 L762.8 217.7 L765.5 218.9 L768.3 220.2 L771.0 221.5 L773.6 222.9 L776.3 224.3 L778.9 225.8 L781.4 227.3 L784.0 228.9 L786.5 230.5 L789.0 232.1 L791.5 233.8 L793.9 235.4 L796.4 237.1 L798.8 238.8 L801.2 240.6 L803.6 242.3 L806.0 244.1 L808.4 245.8 L810.8 247.6 L813.2 249.4 L815.6 251.2 L817.9 253.0 L820.3 254.9 L822.7 256.7 L825.0 258.6 L827.4 260.4 L829.7 262.3 L832.1 264.2 L834.4 266.1 L836.7 267.9 L839.1 269.8 L841.4 271.7 L843.7 273.6 L846.0 275.5 L848.4 277.4 L850.7 279.4 L853.0 281.3 L855.3 283.2 L857.6 285.1 L859.9 287.0 L862.3 288.9 L864.6 290.8 L866.9 292.8 L869.2 294.7 L871.5 296.6 L873.8 298.5 L876.1 300.4 L878.5 302.3 L880.8 304.2 L883.1 306.1 L885.4 308.0 L887.7 309.9 L890.1 311.8 L892.4 313.7 L894.7 315.6 L897.0 317.5 L899.3 319.4 L901.6 321.3 L903.9 323.2 L906.2 325.1 L908.5 327.0 L910.9 328.9 L913.2 330.8 L915.5 332.7 L917.8 334.6 L920.1 336.5 L922.5 338.4 L924.8 340.3 L927.2 342.1 L929.5 344.0 L931.9 345.8 L934.3 347.6 L936.7 349.5 L939.1 351.2 L941.5 353.0 L944.0 354.7 L946.4 356.5 L948.9 358.2 L951.4 359.8 L953.9 361.5 L956.4 363.1 L959.0 364.7 L961.5 366.3 L964.1 367.9 L966.6 369.4 L969.2 371.0 L971.8 372.5 L974.4 374.0 L977.0 375.5 L979.6 377.0 L982.2 378.5 L984.8 380.0 L987.5 381.4 L990.1 382.9 L992.7 384.3 L995.4 385.7 L998.0 387.1 L1000.7 388.5 L1003.4 389.9 L1006.1 391.2 L1008.8 392.5 L1011.5 393.8 L1014.2 395.1 L1017.0 396.3 L1019.7 397.5 L1022.5 398.7 L1025.3 399.8 L1028.0 401.0 L1030.8 402.0 L1033.7 403.1 L1036.5 404.1 L1039.3 405.1 L1042.2 406.1 L1045.0 407.0 L1047.9 407.9 L1050.8 408.7 L1053.7 409.5 L1056.6 410.3 L1059.5 411.1 L1062.4 411.8 L1065.3 412.5 L1068.2 413.2 L1071.1 413.8 L1074.1 414.4 L1077.0 415.0 L1080.0 415.6 L1082.9 416.1 L1085.9 416.6 L1088.8 417.0 L1091.8 417.5 L1094.8 417.9 L1097.7 418.2 L1100.7 418.6 L1103.7 418.9 L1106.6 419.2 L1109.6 419.5 L1112.6 419.7 L1115.6 420.0 L1118.6 420.2 L1121.6 420.3 L1124.5 420.5 L1127.5 420.6 L1130.5 420.7 L1133.5 420.8 L1136.5 420.8 L1139.5 420.9 L1142.5 420.8 L1145.5 420.8 L1148.5 420.7 L1151.5 420.6 L1154.5 420.5 L1157.4 420.3 L1160.4 420.1 L1163.4 419.9 L1166.4 419.6 L1169.3 419.3 L1172.3 419.0 L1175.3 418.6 L1178.2 418.3 L1181.2 417.9 L1184.2 417.4 L1187.1 417.0 L1190.1 416.5 L1193.0 415.9 L1196.0 415.4 L1198.9 414.9 L1201.8 414.3 L1204.8 413.7 L1207.7 413.0 L1210.6 412.4 L1213.6 411.7 L1216.5 411.0 L1219.4 410.3 L1222.3 409.6 L1225.2 408.9 L1228.1 408.1 L1231.0 407.3 L1233.9 406.5 L1236.8 405.7 L1239.7 404.9 L1242.6 404.1 L1245.5 403.2 L1248.4 402.4 L1251.3 401.5 L1254.1 400.6 L1257.0 399.7 L1259.9 398.8 L1262.7 397.9 L1265.6 396.9 L1268.4 396.0 L1271.3 395.0 L1274.1 394.0 L1276.9 393.0 L1279.8 392.0 L1282.6 391.0 L1285.4 390.0 L1288.2 388.9 L1291.0 387.9 L1293.8 386.8 L1296.6 385.7 L1299.4 384.6 L1302.2 383.5 L1305.0 382.3 L1307.8 381.2 L1310.6 380.0 L1313.3 378.9 L1316.1 377.7 L1318.8 376.5 L1321.6 375.3 L1324.3 374.1 L1327.1 372.8 L1329.8 371.6 L1332.5 370.3 L1335.3 369.1 L1338.0 367.8 L1340.7 366.6 L1343.4 365.3 L1346.1 364.0 L1348.9 362.7 L1351.6 361.4 L1354.3 360.1 L1357.0 358.8 L1359.7 357.5 L1362.4 356.2 L1365.1 354.9 L1367.8 353.6 L1370.5 352.2 L1373.2 350.9 L1375.8 349.6 L1378.5 348.3 L1381.2 347.0 L1383.9 345.7 L1386.6 344.3 L1389.3 343.0 L1392.0 341.7 L1394.7 340.4 L1397.4 339.1 L1400.2 337.8 L1402.9 336.5 L1405.6 335.2 L1408.3 334.0 L1411.0 332.7 L1413.7 331.4 L1416.4 330.1 L1419.2 328.9 L1421.9 327.6 L1424.6 326.3 L1427.3 325.1 L1430.1 323.8 L1432.8 322.5 L1435.5 321.3 L1438.3 320.0 L1441.0 318.8 L1443.7 317.6 L1446.5 316.3 L1449.2 315.1 L1452.0 313.9 L1454.7 312.7 L1457.5 311.5 L1460.2 310.4 L1463.0 309.2 L1465.8 308.0 L1468.6 306.9 L1471.3 305.7 L1474.1 304.6 L1476.9 303.5 L1479.7 302.3 L1482.5 301.2 L1485.3 300.1 L1488.1 299.0 L1490.9 297.9 L1493.7 296.9 L1496.5 295.8 L1499.3 294.7 L1502.1 293.7 L1504.9 292.7 L1507.7 291.7 L1510.6 290.7 L1513.4 289.7 L1516.2 288.7 L1519.1 287.8 L1521.9 286.8 L1524.8 285.9 L1527.7 285.0 L1530.5 284.1 L1533.4 283.2 L1536.3 282.4 L1539.2 281.6 L1542.0 280.7 L1544.9 279.9 L1547.8 279.1 L1550.7 278.4 L1553.6 277.6 L1556.6 276.9 L1559.5 276.2 L1562.4 275.5 L1565.3 274.8 L1568.2 274.1 L1571.2 273.4 L1574.1 272.8 L1577.1 272.2 L1580.0 271.5 L1582.9 270.9 L1585.9 270.4 L1588.9 269.8 L1591.8 269.3 L1594.8 268.8 L1597.7 268.3 L1600.7 267.8 L1603.7 267.4 L1606.7 267.0 L1609.6 266.7 L1612.6 266.3 L1615.6 266.1 L1618.6 265.8 L1621.6 265.6 L1624.6 265.4 L1627.6 265.3 L1630.5 265.1 L1633.5 265.1 L1636.5 265.0 L1639.5 265.0 L1642.5 265.0 L1645.5 265.0 L1648.5 265.1 L1651.5 265.2 L1654.4 265.4 L1657.4 265.5 L1660.4 265.7 L1663.4 266.0 L1666.4 266.2 L1669.3 266.5 L1672.3 266.8 L1675.3 267.2 L1678.3 267.6 L1681.2 268.0 L1684.2 268.5 L1687.1 268.9 L1690.1 269.5 L1693.0 270.0 L1696.0 270.6 L1698.9 271.2 L1701.8 271.8 L1704.8 272.5 L1707.7 273.2 L1710.6 273.9 L1713.5 274.7 L1716.4 275.4 L1719.2 276.2 L1722.1 277.0 L1725.0 277.9 L1727.8 278.7 L1730.7 279.6 L1733.5 280.5 L1736.4 281.5 L1739.2 282.4 L1742.0 283.4 L1744.8 284.4 L1747.7 285.4 L1750.5 286.4 L1753.3 287.5 L1756.1 288.5 L1758.9 289.6 L1761.6 290.7 L1764.4 291.8 L1767.2 292.9 L1770.0 294.1 L1772.7 295.2 L1775.5 296.4 L1778.2 297.6 L1781.0 298.7 L1783.7 299.9 L1786.5 301.2 L1789.2 302.4 L1791.9 303.6 L1794.6 304.9 L1797.3 306.2 L1800.0 307.5 L1802.7 308.8 L1805.4 310.1 L1808.1 311.4 L1810.8 312.8 L1813.4 314.1 L1816.1 315.5 L1818.8 316.9 L1821.4 318.3 L1824.0 319.7 L1826.7 321.2 L1829.3 322.6 L1831.9 324.1 L1834.5 325.6 L1837.1 327.1 L1839.7 328.6 L1842.3 330.2 L1844.8 331.7 L1847.4 333.3 L1849.9 334.9 L1852.5 336.6 L1855.0 338.2 L1857.5 339.9 L1860.0 341.5 L1862.5 343.2 L1865.0 344.9 L1867.4 346.7 L1869.9 348.4 L1872.3 350.2 L1874.7 351.9 L1877.2 353.7 L1879.6 355.5 L1882.0 357.3 L1884.4 359.1 L1886.8 361.0 L1889.1 362.8 L1891.5 364.7 L1893.9 366.5 L1896.2 368.4 L1898.5 370.3 L1900.9 372.2 L1903.2 374.1 L1905.5 376.1 L1907.8 378.0 L1910.0 380.0 L1912.3 381.9 L1914.6 383.9 L1916.8 385.9 L1919.1 387.9 L1921.3 389.9 L1923.6 391.9 L1925.8 393.9 L1928.0 395.9 L1930.3 397.9 L1932.5 399.9 L1934.7 402.0 L1936.9 404.0 L1939.1 406.1 L1941.3 408.1 L1943.5 410.2 L1945.7 412.2 L1947.9 414.3 L1950.0 416.3 L1952.2 418.4 L1954.4 420.5 L1956.5 422.6 L1958.7 424.6 L1960.9 426.7 L1963.0 428.8 L1965.2 430.9 L1967.3 433.0 L1969.5 435.1 L1971.6 437.2 L1973.7 439.3 L1975.8 441.4 L1978.0 443.6 L1980.1 445.7 L1982.2 447.8 L1984.3 449.9 L1986.4 452.1 L1988.5 454.2 L1990.6 456.4 L1992.7 458.5 L1994.8 460.7 L1996.9 462.8 L1999.0 465.0 L2001.0 467.2 L2003.1 469.3 L2005.2 471.5 L2007.3 473.7 L2009.3 475.8 L2011.4 478.0 L2013.4 480.2 L2015.5 482.4 L2017.5 484.6 L2019.6 486.8 L2021.6 489.0 L2023.7 491.2 L2025.7 493.4 L2027.8 495.6 L2029.8 497.8 L2031.8 500.0 L2033.9 502.2 L2035.9 504.4 L2037.9 506.6 L2040.0 508.8 L2042.0 511.1 L2044.0 513.3 L2046.0 515.5 L2048.1 517.7 L2050.1 519.9 L2052.1 522.1 L2054.1 524.3 L2056.1 526.6 L2058.2 528.8 L2060.2 531.0 L2062.2 533.2 L2064.2 535.5 L2066.2 537.7 L2068.2 539.9 L2070.2 542.1 L2072.2 544.4 L2074.2 546.6 L2076.2 548.9 L2078.2 551.1 L2080.2 553.4 L2082.1 555.6 L2084.1 557.9 L2086.1 560.1 L2088.1 562.4 L2090.1 564.6 L2092.0 566.9 L2094.0 569.1 L2096.0 571.4 L2098.0 573.7 L2099.9 575.9 L2101.9 578.2 L2103.9 580.5 L2105.8 582.7 L2107.8 585.0 L2109.8 587.2 L2111.7 589.5 L2113.7 591.8 L2115.7 594.0 L2117.6 596.3 L2119.6 598.5 L2121.6 600.8 L2123.6 603.0 L2125.5 605.3 L2127.5 607.6 L2129.5 609.8 L2131.5 612.1 L2133.4 614.3 L2135.4 616.6 L2137.4 618.9 L2139.3 621.1 L2141.3 623.4 L2143.3 625.6 L2145.3 627.9 L2147.2 630.2 L2149.2 632.4 L2151.2 634.7 L2153.2 636.9 L2155.1 639.2 L2157.1 641.5 L2159.1 643.7 L2161.1 646.0 L2163.0 648.3 L2165.0 650.5 L2167.0 652.8 L2169.0 655.0 L2170.9 657.3 L2172.9 659.5 L2174.8 661.8 L2176.8 664.0 L2178.7 666.2 L2180.6 668.4 L2182.6 670.6 L2184.7 673.1 L2186.8 675.4 L2188.7 677.7 L2190.7 679.9"/>
</g>
<text transform="matrix(0.73615 0 0 0.82775 1982.80 180.42)" fill="#000">pH</text>
<text transform="matrix(0.71896 0 0 0.79362 1781.50 424.60)" fill="#000">nm</text>
<text transform="matrix(0.73514 0 0 0.81031 1956.49 424.38)" fill="#000">a.u.</text>
<line x1="1489" y1="495.9" x2="1650.5" y2="495.9" stroke="#62629a" stroke-width="6.6" stroke-linecap="round"/>
<text transform="matrix(0.73410 0 0 0.76450 1668.23 523.15)" fill="#62629a">11; Two Peaks</text>
<line x1="1489" y1="594.3" x2="1650.5" y2="594.3" stroke="#2dbd68" stroke-width="6.6" stroke-linecap="round"/>
<text transform="matrix(0.73251 0 0 0.78780 1668.40 621.14)" fill="#2dbd68">9; 416.5; 1.506</text>
<line x1="1489" y1="692.7" x2="1650.5" y2="692.7" stroke="#ffc20e" stroke-width="6.6" stroke-linecap="round"/>
<text transform="matrix(0.73498 0 0 0.78780 1667.26 719.49)" fill="#ffc20e">7; 417.0; 1.410</text>
<line x1="1489" y1="791.1" x2="1650.5" y2="791.1" stroke="#255e96" stroke-width="6.6" stroke-linecap="round"/>
<text transform="matrix(0.73164 0 0 0.78780 1668.37 817.84)" fill="#255e96">5; 421.0; 1.342</text>
<line x1="1489" y1="889.5" x2="1650.5" y2="889.5" stroke="#f00000" stroke-width="6.6" stroke-linecap="round"/>
<text transform="matrix(0.73372 0 0 0.78780 1667.67 916.19)" fill="#f00000">3; 398.0; 0.556</text>
<rect x="1661" y="550.5" width="469" height="93" fill="#ff00ff" fill-opacity="0.2"/>
</svg></body></html>
